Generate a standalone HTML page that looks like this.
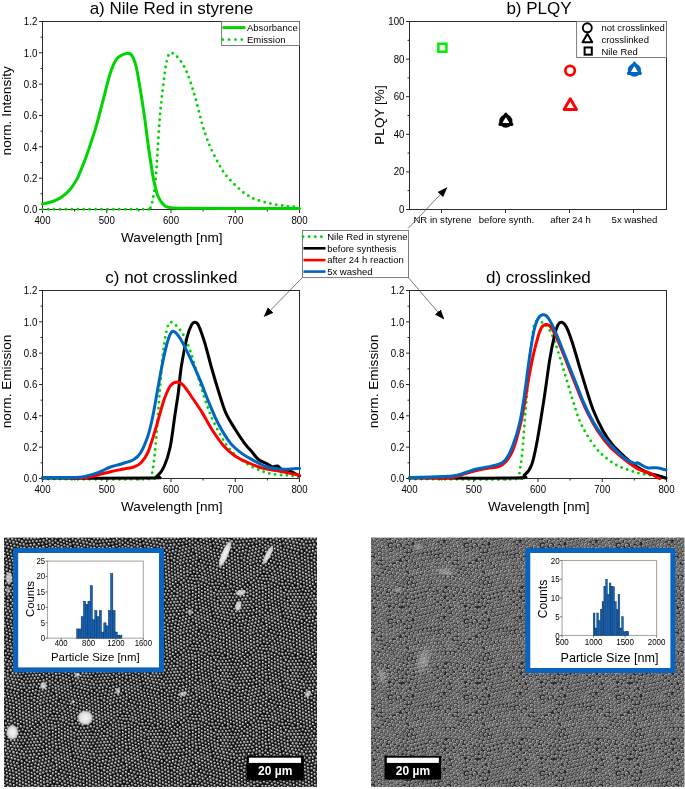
<!DOCTYPE html>
<html><head><meta charset="utf-8"><style>html,body{margin:0;padding:0;background:#fff;}svg{display:block;font-family:"Liberation Sans",sans-serif;will-change:transform;}</style></head><body>
<svg width="685" height="789" viewBox="0 0 685 789" font-family="Liberation Sans, sans-serif">
<rect width="685" height="789" fill="#fff"/>
<defs>
<radialGradient id="gL" cx="0.5" cy="0.5" r="0.5" fx="0.34" fy="0.3"><stop offset="0" stop-color="#f4f4f4"/><stop offset="0.3" stop-color="#a8a8a8"/><stop offset="0.72" stop-color="#505050"/><stop offset="1" stop-color="#1e1e1e"/></radialGradient>
<radialGradient id="gR" cx="0.5" cy="0.5" r="0.5" fx="0.64" fy="0.6"><stop offset="0" stop-color="#6e6e6e"/><stop offset="0.5" stop-color="#787878"/><stop offset="0.78" stop-color="#b4b4b4"/><stop offset="0.92" stop-color="#9a9a9a"/><stop offset="1" stop-color="#4a4a4a"/></radialGradient>
<pattern id="semL" width="70" height="70" patternUnits="userSpaceOnUse"><rect width="70" height="70" fill="#101010"/><circle cx="5.21" cy="18.78" r="1.68" fill="url(#gL)"/><circle cx="55.57" cy="40.84" r="1.62" fill="url(#gL)"/><circle cx="6.03" cy="30.14" r="1.78" fill="url(#gL)"/><circle cx="35.05" cy="11.64" r="1.6" fill="url(#gL)"/><circle cx="53.77" cy="8.42" r="1.74" fill="url(#gL)"/><circle cx="26.57" cy="37.33" r="1.69" fill="url(#gL)"/><circle cx="29.06" cy="39.74" r="1.59" fill="url(#gL)"/><circle cx="53.72" cy="66.5" r="1.73" fill="url(#gL)"/><circle cx="19.85" cy="43.72" r="1.59" fill="url(#gL)"/><circle cx="48.45" cy="21.47" r="1.71" fill="url(#gL)"/><circle cx="-0.92" cy="67.37" r="1.6" fill="url(#gL)"/><circle cx="69.08" cy="67.37" r="1.6" fill="url(#gL)"/><circle cx="20.85" cy="21.93" r="1.6" fill="url(#gL)"/><circle cx="62.33" cy="41.44" r="1.71" fill="url(#gL)"/><circle cx="34.37" cy="54.67" r="1.84" fill="url(#gL)"/><circle cx="-0.12" cy="50.98" r="1.61" fill="url(#gL)"/><circle cx="69.88" cy="50.98" r="1.61" fill="url(#gL)"/><circle cx="25.45" cy="3.7" r="1.65" fill="url(#gL)"/><circle cx="48.4" cy="65" r="1.77" fill="url(#gL)"/><circle cx="12.91" cy="43.4" r="1.87" fill="url(#gL)"/><circle cx="20.3" cy="54.29" r="1.76" fill="url(#gL)"/><circle cx="52.48" cy="15.85" r="1.7" fill="url(#gL)"/><circle cx="56.72" cy="47.53" r="1.88" fill="url(#gL)"/><circle cx="49.42" cy="58.23" r="1.59" fill="url(#gL)"/><circle cx="30.82" cy="55" r="1.85" fill="url(#gL)"/><circle cx="62.28" cy="5.21" r="1.67" fill="url(#gL)"/><circle cx="62.07" cy="27.08" r="1.62" fill="url(#gL)"/><circle cx="31.94" cy="10.17" r="1.61" fill="url(#gL)"/><circle cx="50.23" cy="18.45" r="1.67" fill="url(#gL)"/><circle cx="63.26" cy="20.62" r="1.83" fill="url(#gL)"/><circle cx="40.17" cy="27.49" r="1.63" fill="url(#gL)"/><circle cx="41.26" cy="14.58" r="1.76" fill="url(#gL)"/><circle cx="9.88" cy="51.5" r="1.78" fill="url(#gL)"/><circle cx="55.75" cy="37.35" r="1.69" fill="url(#gL)"/><circle cx="65.46" cy="14.94" r="1.75" fill="url(#gL)"/><circle cx="60.21" cy="10.9" r="1.59" fill="url(#gL)"/><circle cx="-1.17" cy="44.1" r="1.59" fill="url(#gL)"/><circle cx="68.83" cy="44.1" r="1.59" fill="url(#gL)"/><circle cx="41.26" cy="67.1" r="1.64" fill="url(#gL)"/><circle cx="55.45" cy="55.02" r="1.79" fill="url(#gL)"/><circle cx="6" cy="23.5" r="1.71" fill="url(#gL)"/><circle cx="4.06" cy="11.91" r="1.67" fill="url(#gL)"/><circle cx="17.34" cy="63.31" r="1.76" fill="url(#gL)"/><circle cx="8.1" cy="20.72" r="1.72" fill="url(#gL)"/><circle cx="36.27" cy="60.23" r="1.67" fill="url(#gL)"/><circle cx="66.66" cy="49.7" r="1.83" fill="url(#gL)"/><circle cx="14.62" cy="40.3" r="1.8" fill="url(#gL)"/><circle cx="50.11" cy="1.34" r="1.65" fill="url(#gL)"/><circle cx="50.11" cy="71.34" r="1.65" fill="url(#gL)"/><circle cx="48.96" cy="24.9" r="1.76" fill="url(#gL)"/><circle cx="42.4" cy="47.25" r="1.74" fill="url(#gL)"/><circle cx="46.9" cy="34.51" r="1.85" fill="url(#gL)"/><circle cx="38.24" cy="13.17" r="1.8" fill="url(#gL)"/><circle cx="34.83" cy="8.18" r="1.67" fill="url(#gL)"/><circle cx="35.96" cy="39.21" r="1.88" fill="url(#gL)"/><circle cx="53.07" cy="32.11" r="1.61" fill="url(#gL)"/><circle cx="1.32" cy="38.69" r="1.71" fill="url(#gL)"/><circle cx="71.32" cy="38.69" r="1.71" fill="url(#gL)"/><circle cx="14.44" cy="55.82" r="1.81" fill="url(#gL)"/><circle cx="27.18" cy="24.59" r="1.62" fill="url(#gL)"/><circle cx="61.64" cy="23.64" r="1.73" fill="url(#gL)"/><circle cx="24.09" cy="23.25" r="1.59" fill="url(#gL)"/><circle cx="28.62" cy="5.21" r="1.79" fill="url(#gL)"/><circle cx="38.74" cy="64.85" r="1.82" fill="url(#gL)"/><circle cx="38.98" cy="54.09" r="1.76" fill="url(#gL)"/><circle cx="65.02" cy="58.87" r="1.85" fill="url(#gL)"/><circle cx="52.61" cy="57.08" r="1.67" fill="url(#gL)"/><circle cx="56.74" cy="19.3" r="1.79" fill="url(#gL)"/><circle cx="33.13" cy="24.1" r="1.76" fill="url(#gL)"/><circle cx="17.92" cy="34.26" r="1.76" fill="url(#gL)"/><circle cx="21.52" cy="40.6" r="1.72" fill="url(#gL)"/><circle cx="41.09" cy="7.4" r="1.84" fill="url(#gL)"/><circle cx="30.33" cy="26.01" r="1.87" fill="url(#gL)"/><circle cx="50.47" cy="9.66" r="1.72" fill="url(#gL)"/><circle cx="10.95" cy="34.42" r="1.78" fill="url(#gL)"/><circle cx="25.91" cy="45.88" r="1.59" fill="url(#gL)"/><circle cx="23.16" cy="12.77" r="1.8" fill="url(#gL)"/><circle cx="66.04" cy="18.41" r="1.78" fill="url(#gL)"/><circle cx="11.57" cy="21.23" r="1.89" fill="url(#gL)"/><circle cx="26.29" cy="14.23" r="1.83" fill="url(#gL)"/><circle cx="34.78" cy="67.01" r="1.66" fill="url(#gL)"/><circle cx="7.66" cy="26.97" r="1.7" fill="url(#gL)"/><circle cx="48.87" cy="61.63" r="1.79" fill="url(#gL)"/><circle cx="67.48" cy="9.33" r="1.58" fill="url(#gL)"/><circle cx="35.47" cy="63.59" r="1.72" fill="url(#gL)"/><circle cx="1.6" cy="42.08" r="1.63" fill="url(#gL)"/><circle cx="71.6" cy="42.08" r="1.63" fill="url(#gL)"/><circle cx="11.05" cy="54.84" r="1.61" fill="url(#gL)"/><circle cx="65.12" cy="39.33" r="1.59" fill="url(#gL)"/><circle cx="1.04" cy="3.92" r="1.82" fill="url(#gL)"/><circle cx="71.04" cy="3.92" r="1.82" fill="url(#gL)"/><circle cx="29.67" cy="61.9" r="1.62" fill="url(#gL)"/><circle cx="15.78" cy="49.7" r="1.65" fill="url(#gL)"/><circle cx="29.7" cy="19.13" r="1.7" fill="url(#gL)"/><circle cx="52.39" cy="25.29" r="1.85" fill="url(#gL)"/><circle cx="27.29" cy="55.5" r="1.6" fill="url(#gL)"/><circle cx="36.94" cy="56.8" r="1.72" fill="url(#gL)"/><circle cx="37.94" cy="9.63" r="1.75" fill="url(#gL)"/><circle cx="33.1" cy="61.22" r="1.85" fill="url(#gL)"/><circle cx="37.98" cy="-1.73" r="1.83" fill="url(#gL)"/><circle cx="37.98" cy="68.27" r="1.83" fill="url(#gL)"/><circle cx="2.59" cy="24.33" r="1.85" fill="url(#gL)"/><circle cx="55.63" cy="50.71" r="1.66" fill="url(#gL)"/><circle cx="38.3" cy="48.14" r="1.71" fill="url(#gL)"/><circle cx="60.17" cy="47.07" r="1.69" fill="url(#gL)"/><circle cx="37.57" cy="36.08" r="1.85" fill="url(#gL)"/><circle cx="44.06" cy="20.54" r="1.88" fill="url(#gL)"/><circle cx="49.23" cy="43.6" r="1.62" fill="url(#gL)"/><circle cx="55.94" cy="33.94" r="1.63" fill="url(#gL)"/><circle cx="4.41" cy="39.96" r="1.65" fill="url(#gL)"/><circle cx="59.6" cy="43.62" r="1.65" fill="url(#gL)"/><circle cx="43.41" cy="29" r="1.73" fill="url(#gL)"/><circle cx="26.24" cy="51.85" r="1.76" fill="url(#gL)"/><circle cx="7.22" cy="60.42" r="1.66" fill="url(#gL)"/><circle cx="63.15" cy="-1.55" r="1.58" fill="url(#gL)"/><circle cx="63.15" cy="68.45" r="1.58" fill="url(#gL)"/><circle cx="10.75" cy="7.58" r="1.71" fill="url(#gL)"/><circle cx="65.04" cy="28.86" r="1.69" fill="url(#gL)"/><circle cx="17.72" cy="27.72" r="1.75" fill="url(#gL)"/><circle cx="47.5" cy="11.59" r="1.88" fill="url(#gL)"/><circle cx="36.36" cy="45.22" r="1.79" fill="url(#gL)"/><circle cx="53.43" cy="-0.09" r="1.74" fill="url(#gL)"/><circle cx="53.43" cy="69.91" r="1.74" fill="url(#gL)"/><circle cx="55.97" cy="30.07" r="1.77" fill="url(#gL)"/><circle cx="32.58" cy="39.48" r="1.79" fill="url(#gL)"/><circle cx="21.8" cy="65.05" r="1.59" fill="url(#gL)"/><circle cx="16.21" cy="37.33" r="1.86" fill="url(#gL)"/><circle cx="11.05" cy="40.4" r="1.82" fill="url(#gL)"/><circle cx="62.36" cy="61.01" r="1.85" fill="url(#gL)"/><circle cx="7.98" cy="44.6" r="1.83" fill="url(#gL)"/><circle cx="62.09" cy="13.73" r="1.7" fill="url(#gL)"/><circle cx="29.72" cy="51.7" r="1.7" fill="url(#gL)"/><circle cx="49.66" cy="32.38" r="1.61" fill="url(#gL)"/><circle cx="46.56" cy="45.77" r="1.77" fill="url(#gL)"/><circle cx="23.34" cy="43.55" r="1.59" fill="url(#gL)"/><circle cx="40.31" cy="50.87" r="1.6" fill="url(#gL)"/><circle cx="38.82" cy="20.15" r="1.64" fill="url(#gL)"/><circle cx="31.74" cy="64.79" r="1.63" fill="url(#gL)"/><circle cx="13.48" cy="11.67" r="1.68" fill="url(#gL)"/><circle cx="3.96" cy="59.67" r="1.59" fill="url(#gL)"/><circle cx="-1.34" cy="16.26" r="1.58" fill="url(#gL)"/><circle cx="68.66" cy="16.26" r="1.58" fill="url(#gL)"/><circle cx="16.97" cy="13.44" r="1.62" fill="url(#gL)"/><circle cx="43.61" cy="32.51" r="1.61" fill="url(#gL)"/><circle cx="55.85" cy="16.07" r="1.69" fill="url(#gL)"/><circle cx="62.15" cy="30.9" r="1.58" fill="url(#gL)"/><circle cx="55.85" cy="58.46" r="1.85" fill="url(#gL)"/><circle cx="65.31" cy="32.34" r="1.77" fill="url(#gL)"/><circle cx="43.38" cy="39.42" r="1.62" fill="url(#gL)"/><circle cx="16.15" cy="31.31" r="1.65" fill="url(#gL)"/><circle cx="62.57" cy="64.99" r="1.68" fill="url(#gL)"/><circle cx="2.13" cy="45.54" r="1.69" fill="url(#gL)"/><circle cx="25.71" cy="7.2" r="1.61" fill="url(#gL)"/><circle cx="7.39" cy="53.96" r="1.84" fill="url(#gL)"/><circle cx="-1.87" cy="37.17" r="1.89" fill="url(#gL)"/><circle cx="68.13" cy="37.17" r="1.89" fill="url(#gL)"/><circle cx="24.71" cy="34.42" r="1.72" fill="url(#gL)"/><circle cx="58.09" cy="52.89" r="1.73" fill="url(#gL)"/><circle cx="1.39" cy="14.1" r="1.6" fill="url(#gL)"/><circle cx="71.39" cy="14.1" r="1.6" fill="url(#gL)"/><circle cx="58.97" cy="36.08" r="1.61" fill="url(#gL)"/><circle cx="46.42" cy="52.56" r="1.68" fill="url(#gL)"/><circle cx="46.97" cy="49.19" r="1.66" fill="url(#gL)"/><circle cx="38.51" cy="16.59" r="1.84" fill="url(#gL)"/><circle cx="13.16" cy="1.31" r="1.63" fill="url(#gL)"/><circle cx="13.16" cy="71.31" r="1.63" fill="url(#gL)"/><circle cx="-0.69" cy="47.61" r="1.58" fill="url(#gL)"/><circle cx="69.31" cy="47.61" r="1.58" fill="url(#gL)"/><circle cx="62.72" cy="17.19" r="1.87" fill="url(#gL)"/><circle cx="4.31" cy="27.4" r="1.74" fill="url(#gL)"/><circle cx="21.34" cy="33.69" r="1.62" fill="url(#gL)"/><circle cx="28.15" cy="-1.74" r="1.75" fill="url(#gL)"/><circle cx="28.15" cy="68.26" r="1.75" fill="url(#gL)"/><circle cx="8.91" cy="67.14" r="1.58" fill="url(#gL)"/><circle cx="2.39" cy="-1.34" r="1.74" fill="url(#gL)"/><circle cx="2.39" cy="68.66" r="1.74" fill="url(#gL)"/><circle cx="22.19" cy="51.49" r="1.88" fill="url(#gL)"/><circle cx="1.31" cy="31.7" r="1.85" fill="url(#gL)"/><circle cx="71.31" cy="31.7" r="1.85" fill="url(#gL)"/><circle cx="49.83" cy="47.06" r="1.79" fill="url(#gL)"/><circle cx="54.14" cy="11.89" r="1.66" fill="url(#gL)"/><circle cx="27.51" cy="42.73" r="1.69" fill="url(#gL)"/><circle cx="0.96" cy="57.86" r="1.63" fill="url(#gL)"/><circle cx="70.96" cy="57.86" r="1.63" fill="url(#gL)"/><circle cx="29.36" cy="15.65" r="1.82" fill="url(#gL)"/><circle cx="14.52" cy="46.45" r="1.74" fill="url(#gL)"/><circle cx="1.95" cy="17.5" r="1.82" fill="url(#gL)"/><circle cx="20.42" cy="18.44" r="1.68" fill="url(#gL)"/><circle cx="52.6" cy="38.96" r="1.65" fill="url(#gL)"/><circle cx="63.36" cy="48.39" r="1.83" fill="url(#gL)"/><circle cx="18.24" cy="24.25" r="1.89" fill="url(#gL)"/><circle cx="8.11" cy="16.9" r="1.84" fill="url(#gL)"/><circle cx="43.79" cy="50.47" r="1.83" fill="url(#gL)"/><circle cx="20.96" cy="26.47" r="1.83" fill="url(#gL)"/><circle cx="57.01" cy="65.25" r="1.81" fill="url(#gL)"/><circle cx="7.48" cy="6.37" r="1.65" fill="url(#gL)"/><circle cx="52.94" cy="35.44" r="1.74" fill="url(#gL)"/><circle cx="30.92" cy="42.58" r="1.69" fill="url(#gL)"/><circle cx="55.87" cy="5.64" r="1.58" fill="url(#gL)"/><circle cx="65.84" cy="66.23" r="1.58" fill="url(#gL)"/><circle cx="29.28" cy="31.01" r="1.66" fill="url(#gL)"/><circle cx="18.01" cy="40.41" r="1.66" fill="url(#gL)"/><circle cx="14.49" cy="34.37" r="1.79" fill="url(#gL)"/><circle cx="61.9" cy="37.97" r="1.88" fill="url(#gL)"/><circle cx="57.51" cy="12.99" r="1.72" fill="url(#gL)"/><circle cx="62.89" cy="8.62" r="1.87" fill="url(#gL)"/><circle cx="13.62" cy="52.4" r="1.89" fill="url(#gL)"/><circle cx="19.7" cy="7.87" r="1.88" fill="url(#gL)"/><circle cx="3.72" cy="53.37" r="1.69" fill="url(#gL)"/><circle cx="3.77" cy="1.72" r="1.64" fill="url(#gL)"/><circle cx="64.48" cy="55.4" r="1.65" fill="url(#gL)"/><circle cx="29.15" cy="12.19" r="1.64" fill="url(#gL)"/><circle cx="61.4" cy="54.15" r="1.64" fill="url(#gL)"/><circle cx="46.64" cy="38" r="1.77" fill="url(#gL)"/><circle cx="34.28" cy="0.46" r="1.86" fill="url(#gL)"/><circle cx="34.28" cy="70.46" r="1.86" fill="url(#gL)"/><circle cx="37.63" cy="6.28" r="1.84" fill="url(#gL)"/><circle cx="4.86" cy="43.48" r="1.73" fill="url(#gL)"/><circle cx="53.1" cy="45.87" r="1.78" fill="url(#gL)"/><circle cx="53.57" cy="18.98" r="1.83" fill="url(#gL)"/><circle cx="23.32" cy="16.28" r="1.6" fill="url(#gL)"/><circle cx="26.49" cy="17.65" r="1.78" fill="url(#gL)"/><circle cx="56.92" cy="9.64" r="1.86" fill="url(#gL)"/><circle cx="12.41" cy="49.27" r="1.82" fill="url(#gL)"/><circle cx="26.83" cy="21.17" r="1.81" fill="url(#gL)"/><circle cx="-1.44" cy="63.99" r="1.73" fill="url(#gL)"/><circle cx="68.56" cy="63.99" r="1.73" fill="url(#gL)"/><circle cx="16.97" cy="10" r="1.63" fill="url(#gL)"/><circle cx="34.46" cy="42.35" r="1.82" fill="url(#gL)"/><circle cx="24.94" cy="40.48" r="1.68" fill="url(#gL)"/><circle cx="46.17" cy="59.33" r="1.83" fill="url(#gL)"/><circle cx="16.43" cy="43.51" r="1.88" fill="url(#gL)"/><circle cx="4.36" cy="5.19" r="1.7" fill="url(#gL)"/><circle cx="3.52" cy="8.52" r="1.7" fill="url(#gL)"/><circle cx="55.53" cy="26.61" r="1.87" fill="url(#gL)"/><circle cx="34.46" cy="31.29" r="1.8" fill="url(#gL)"/><circle cx="13.6" cy="4.78" r="1.63" fill="url(#gL)"/><circle cx="13.95" cy="62.39" r="1.62" fill="url(#gL)"/><circle cx="19.42" cy="30.76" r="1.62" fill="url(#gL)"/><circle cx="17.08" cy="52.97" r="1.86" fill="url(#gL)"/><circle cx="49.34" cy="28.58" r="1.83" fill="url(#gL)"/><circle cx="37.7" cy="25.11" r="1.62" fill="url(#gL)"/><circle cx="39.79" cy="45.07" r="1.84" fill="url(#gL)"/><circle cx="42.05" cy="63.76" r="1.88" fill="url(#gL)"/><circle cx="64.36" cy="2.42" r="1.78" fill="url(#gL)"/><circle cx="25.26" cy="0.17" r="1.69" fill="url(#gL)"/><circle cx="25.26" cy="70.17" r="1.69" fill="url(#gL)"/><circle cx="26.75" cy="60.43" r="1.75" fill="url(#gL)"/><circle cx="49.34" cy="40.13" r="1.62" fill="url(#gL)"/><circle cx="5.16" cy="56.51" r="1.58" fill="url(#gL)"/><circle cx="41.23" cy="22.6" r="1.88" fill="url(#gL)"/><circle cx="56.17" cy="2.11" r="1.78" fill="url(#gL)"/><circle cx="15.28" cy="59.15" r="1.74" fill="url(#gL)"/><circle cx="0.83" cy="10.63" r="1.87" fill="url(#gL)"/><circle cx="70.83" cy="10.63" r="1.87" fill="url(#gL)"/><circle cx="36.78" cy="51.3" r="1.71" fill="url(#gL)"/><circle cx="40.62" cy="0.58" r="1.85" fill="url(#gL)"/><circle cx="40.62" cy="70.58" r="1.85" fill="url(#gL)"/><circle cx="18" cy="46.62" r="1.84" fill="url(#gL)"/><circle cx="25.96" cy="10.68" r="1.64" fill="url(#gL)"/><circle cx="-0.79" cy="19.76" r="1.65" fill="url(#gL)"/><circle cx="69.21" cy="19.76" r="1.65" fill="url(#gL)"/><circle cx="61.09" cy="1.24" r="1.67" fill="url(#gL)"/><circle cx="61.09" cy="71.24" r="1.67" fill="url(#gL)"/><circle cx="39.5" cy="61.4" r="1.65" fill="url(#gL)"/><circle cx="47.78" cy="15.06" r="1.76" fill="url(#gL)"/><circle cx="44.05" cy="9.25" r="1.66" fill="url(#gL)"/><circle cx="32.85" cy="20.55" r="1.71" fill="url(#gL)"/><circle cx="59.61" cy="63.23" r="1.62" fill="url(#gL)"/><circle cx="52.74" cy="28.59" r="1.86" fill="url(#gL)"/><circle cx="59.88" cy="67.22" r="1.69" fill="url(#gL)"/><circle cx="23.07" cy="37.52" r="1.72" fill="url(#gL)"/><circle cx="10.28" cy="4.12" r="1.76" fill="url(#gL)"/><circle cx="51.04" cy="6.16" r="1.86" fill="url(#gL)"/><circle cx="41.14" cy="11.12" r="1.71" fill="url(#gL)"/><circle cx="49.7" cy="51.34" r="1.86" fill="url(#gL)"/><circle cx="64.85" cy="24.98" r="1.73" fill="url(#gL)"/><circle cx="27.54" cy="28.15" r="1.74" fill="url(#gL)"/><circle cx="50.06" cy="54.78" r="1.74" fill="url(#gL)"/><circle cx="9.37" cy="23.96" r="1.58" fill="url(#gL)"/><circle cx="4.63" cy="15.39" r="1.71" fill="url(#gL)"/><circle cx="51.62" cy="63.74" r="1.63" fill="url(#gL)"/><circle cx="67.64" cy="3.64" r="1.58" fill="url(#gL)"/><circle cx="27.94" cy="64.76" r="1.83" fill="url(#gL)"/><circle cx="36.01" cy="22.07" r="1.63" fill="url(#gL)"/><circle cx="53" cy="60.56" r="1.72" fill="url(#gL)"/><circle cx="8.73" cy="37.82" r="1.8" fill="url(#gL)"/><circle cx="10.56" cy="14.37" r="1.75" fill="url(#gL)"/><circle cx="35.66" cy="18.63" r="1.68" fill="url(#gL)"/><circle cx="58.89" cy="25.68" r="1.74" fill="url(#gL)"/><circle cx="11.11" cy="46.06" r="1.75" fill="url(#gL)"/><circle cx="16.45" cy="2.6" r="1.82" fill="url(#gL)"/><circle cx="68.08" cy="12.83" r="1.61" fill="url(#gL)"/><circle cx="9.26" cy="31.47" r="1.75" fill="url(#gL)"/><circle cx="67.17" cy="53.18" r="1.65" fill="url(#gL)"/><circle cx="6.98" cy="2.94" r="1.66" fill="url(#gL)"/><circle cx="1.57" cy="35.17" r="1.82" fill="url(#gL)"/><circle cx="71.57" cy="35.17" r="1.82" fill="url(#gL)"/><circle cx="65.28" cy="62.73" r="1.73" fill="url(#gL)"/><circle cx="52.91" cy="3.4" r="1.75" fill="url(#gL)"/><circle cx="48.03" cy="4.77" r="1.81" fill="url(#gL)"/><circle cx="67.8" cy="56.64" r="1.86" fill="url(#gL)"/><circle cx="21.16" cy="57.7" r="1.71" fill="url(#gL)"/><circle cx="40.2" cy="58.03" r="1.77" fill="url(#gL)"/><circle cx="44.59" cy="65.97" r="1.73" fill="url(#gL)"/><circle cx="32.94" cy="57.75" r="1.74" fill="url(#gL)"/><circle cx="59.01" cy="40.15" r="1.79" fill="url(#gL)"/><circle cx="37.41" cy="29.28" r="1.72" fill="url(#gL)"/><circle cx="44.48" cy="16.13" r="1.74" fill="url(#gL)"/><circle cx="32.87" cy="45.52" r="1.73" fill="url(#gL)"/><circle cx="20.09" cy="14.96" r="1.87" fill="url(#gL)"/><circle cx="8.57" cy="57.22" r="1.8" fill="url(#gL)"/><circle cx="61.83" cy="57.61" r="1.85" fill="url(#gL)"/><circle cx="52.5" cy="42.41" r="1.87" fill="url(#gL)"/><circle cx="4.57" cy="63.05" r="1.66" fill="url(#gL)"/><circle cx="34.79" cy="48.41" r="1.75" fill="url(#gL)"/><circle cx="6" cy="50.73" r="1.87" fill="url(#gL)"/><circle cx="12.28" cy="68.09" r="1.84" fill="url(#gL)"/><circle cx="49.64" cy="36.66" r="1.62" fill="url(#gL)"/><circle cx="46.72" cy="18.39" r="1.61" fill="url(#gL)"/><circle cx="31.88" cy="6.26" r="1.71" fill="url(#gL)"/><circle cx="17.77" cy="20.66" r="1.6" fill="url(#gL)"/><circle cx="12.59" cy="25.34" r="1.65" fill="url(#gL)"/><circle cx="6.46" cy="-0.37" r="1.6" fill="url(#gL)"/><circle cx="6.46" cy="69.63" r="1.6" fill="url(#gL)"/><circle cx="22.1" cy="-1.45" r="1.79" fill="url(#gL)"/><circle cx="22.1" cy="68.55" r="1.79" fill="url(#gL)"/><circle cx="46.57" cy="30.73" r="1.82" fill="url(#gL)"/><circle cx="13.97" cy="8.19" r="1.86" fill="url(#gL)"/><circle cx="29.43" cy="45.64" r="1.62" fill="url(#gL)"/><circle cx="59.15" cy="32.54" r="1.8" fill="url(#gL)"/><circle cx="58.55" cy="56.36" r="1.78" fill="url(#gL)"/><circle cx="58.46" cy="22.46" r="1.62" fill="url(#gL)"/><circle cx="28.85" cy="8.67" r="1.85" fill="url(#gL)"/><circle cx="40.23" cy="3.98" r="1.88" fill="url(#gL)"/><circle cx="32.22" cy="13.62" r="1.64" fill="url(#gL)"/><circle cx="35.41" cy="15.13" r="1.88" fill="url(#gL)"/><circle cx="0.89" cy="28.21" r="1.7" fill="url(#gL)"/><circle cx="70.89" cy="28.21" r="1.7" fill="url(#gL)"/><circle cx="30.64" cy="36.56" r="1.73" fill="url(#gL)"/><circle cx="7.6" cy="34.53" r="1.89" fill="url(#gL)"/><circle cx="19.54" cy="4.03" r="1.84" fill="url(#gL)"/><circle cx="31.32" cy="48.58" r="1.63" fill="url(#gL)"/><circle cx="21.47" cy="46.82" r="1.71" fill="url(#gL)"/><circle cx="56.72" cy="-1.22" r="1.74" fill="url(#gL)"/><circle cx="56.72" cy="68.78" r="1.74" fill="url(#gL)"/><circle cx="14.48" cy="19.4" r="1.68" fill="url(#gL)"/><circle cx="40.64" cy="34.41" r="1.64" fill="url(#gL)"/><circle cx="34.8" cy="4.28" r="1.68" fill="url(#gL)"/><circle cx="19.98" cy="11.46" r="1.8" fill="url(#gL)"/><circle cx="52.41" cy="49.25" r="1.58" fill="url(#gL)"/><circle cx="21.85" cy="61.41" r="1.75" fill="url(#gL)"/><circle cx="9.78" cy="0.65" r="1.71" fill="url(#gL)"/><circle cx="9.78" cy="70.65" r="1.71" fill="url(#gL)"/><circle cx="24.37" cy="48.79" r="1.58" fill="url(#gL)"/><circle cx="-1.54" cy="33.77" r="1.68" fill="url(#gL)"/><circle cx="68.46" cy="33.77" r="1.68" fill="url(#gL)"/><circle cx="7.72" cy="41.18" r="1.77" fill="url(#gL)"/><circle cx="0.43" cy="54.46" r="1.74" fill="url(#gL)"/><circle cx="70.43" cy="54.46" r="1.74" fill="url(#gL)"/><circle cx="22.58" cy="5.8" r="1.6" fill="url(#gL)"/><circle cx="11.94" cy="58.16" r="1.89" fill="url(#gL)"/><circle cx="64.77" cy="11.57" r="1.82" fill="url(#gL)"/><circle cx="-1.71" cy="60.11" r="1.88" fill="url(#gL)"/><circle cx="68.29" cy="60.11" r="1.88" fill="url(#gL)"/><circle cx="19.21" cy="0.54" r="1.61" fill="url(#gL)"/><circle cx="19.21" cy="70.54" r="1.61" fill="url(#gL)"/><circle cx="10.87" cy="28.38" r="1.66" fill="url(#gL)"/><circle cx="13.98" cy="15.21" r="1.59" fill="url(#gL)"/><circle cx="18.6" cy="60.1" r="1.82" fill="url(#gL)"/><circle cx="1.82" cy="65.19" r="1.66" fill="url(#gL)"/><circle cx="33.16" cy="51.39" r="1.62" fill="url(#gL)"/><circle cx="31.57" cy="68.28" r="1.71" fill="url(#gL)"/><circle cx="11.52" cy="17.77" r="1.86" fill="url(#gL)"/><circle cx="34.1" cy="36.07" r="1.83" fill="url(#gL)"/><circle cx="23.63" cy="19.74" r="1.66" fill="url(#gL)"/><circle cx="4.76" cy="36.65" r="1.62" fill="url(#gL)"/><circle cx="56.25" cy="61.92" r="1.86" fill="url(#gL)"/><circle cx="28.38" cy="1.71" r="1.75" fill="url(#gL)"/><circle cx="28.38" cy="71.71" r="1.75" fill="url(#gL)"/><circle cx="66.51" cy="21.9" r="1.8" fill="url(#gL)"/><circle cx="10.6" cy="61.38" r="1.6" fill="url(#gL)"/><circle cx="66.1" cy="46.24" r="1.59" fill="url(#gL)"/><circle cx="68.08" cy="30.25" r="1.79" fill="url(#gL)"/><circle cx="37.41" cy="1.95" r="1.71" fill="url(#gL)"/><circle cx="24.98" cy="66.73" r="1.6" fill="url(#gL)"/><circle cx="6.79" cy="9.74" r="1.87" fill="url(#gL)"/><circle cx="4.34" cy="33.15" r="1.77" fill="url(#gL)"/><circle cx="43.76" cy="35.89" r="1.83" fill="url(#gL)"/><circle cx="62.85" cy="44.91" r="1.6" fill="url(#gL)"/><circle cx="41.21" cy="41.77" r="1.84" fill="url(#gL)"/><circle cx="31.68" cy="2.79" r="1.6" fill="url(#gL)"/><circle cx="5.35" cy="46.86" r="1.85" fill="url(#gL)"/><circle cx="14.29" cy="28.28" r="1.72" fill="url(#gL)"/><circle cx="46.15" cy="41.57" r="1.68" fill="url(#gL)"/><circle cx="17.01" cy="16.94" r="1.75" fill="url(#gL)"/><circle cx="8.43" cy="48.4" r="1.87" fill="url(#gL)"/><circle cx="50.57" cy="12.94" r="1.66" fill="url(#gL)"/><circle cx="16.84" cy="6.08" r="1.62" fill="url(#gL)"/><circle cx="41.66" cy="18.1" r="1.74" fill="url(#gL)"/><circle cx="60.28" cy="19.33" r="1.65" fill="url(#gL)"/><circle cx="43.7" cy="44.07" r="1.61" fill="url(#gL)"/><circle cx="63.9" cy="51.87" r="1.63" fill="url(#gL)"/><circle cx="65.62" cy="42.77" r="1.59" fill="url(#gL)"/><circle cx="2.49" cy="20.99" r="1.64" fill="url(#gL)"/><circle cx="51.71" cy="21.87" r="1.67" fill="url(#gL)"/><circle cx="47.34" cy="8.07" r="1.67" fill="url(#gL)"/><circle cx="46.17" cy="27.04" r="1.81" fill="url(#gL)"/><circle cx="65.55" cy="6.45" r="1.67" fill="url(#gL)"/><circle cx="24.54" cy="57.73" r="1.73" fill="url(#gL)"/><circle cx="28.11" cy="34.33" r="1.63" fill="url(#gL)"/><circle cx="22.43" cy="2.03" r="1.68" fill="url(#gL)"/><circle cx="24.79" cy="63.23" r="1.58" fill="url(#gL)"/><circle cx="55.07" cy="23.01" r="1.65" fill="url(#gL)"/><circle cx="46.75" cy="56.05" r="1.58" fill="url(#gL)"/><circle cx="59.02" cy="4.05" r="1.81" fill="url(#gL)"/><circle cx="14.87" cy="65.72" r="1.75" fill="url(#gL)"/><circle cx="17.74" cy="56.71" r="1.63" fill="url(#gL)"/><circle cx="42.78" cy="60.37" r="1.72" fill="url(#gL)"/><circle cx="5.1" cy="66.4" r="1.87" fill="url(#gL)"/><circle cx="59.39" cy="15.98" r="1.61" fill="url(#gL)"/><circle cx="50.64" cy="67.87" r="1.83" fill="url(#gL)"/><circle cx="59.24" cy="29.2" r="1.71" fill="url(#gL)"/><circle cx="52.76" cy="52.75" r="1.73" fill="url(#gL)"/><circle cx="1.22" cy="61.86" r="1.84" fill="url(#gL)"/><circle cx="71.22" cy="61.86" r="1.84" fill="url(#gL)"/><circle cx="10.06" cy="10.98" r="1.7" fill="url(#gL)"/><circle cx="32.54" cy="17.17" r="1.73" fill="url(#gL)"/><circle cx="44.23" cy="12.6" r="1.79" fill="url(#gL)"/><circle cx="43.52" cy="56.95" r="1.88" fill="url(#gL)"/><circle cx="67.78" cy="26.8" r="1.68" fill="url(#gL)"/><circle cx="19.73" cy="37.31" r="1.84" fill="url(#gL)"/><circle cx="45.54" cy="62.79" r="1.8" fill="url(#gL)"/><circle cx="40.47" cy="30.92" r="1.78" fill="url(#gL)"/><circle cx="19.28" cy="49.89" r="1.7" fill="url(#gL)"/><circle cx="44.73" cy="5.88" r="1.68" fill="url(#gL)"/><circle cx="22.89" cy="9.3" r="1.59" fill="url(#gL)"/><circle cx="34.81" cy="27.02" r="1.62" fill="url(#gL)"/><circle cx="12.77" cy="37.44" r="1.6" fill="url(#gL)"/><circle cx="43.07" cy="25.52" r="1.81" fill="url(#gL)"/><circle cx="59.62" cy="7.39" r="1.66" fill="url(#gL)"/><circle cx="2.8" cy="49.26" r="1.63" fill="url(#gL)"/><circle cx="42.47" cy="53.68" r="1.6" fill="url(#gL)"/><circle cx="65.1" cy="35.87" r="1.84" fill="url(#gL)"/><circle cx="56.15" cy="44.1" r="1.85" fill="url(#gL)"/><circle cx="37.63" cy="32.82" r="1.79" fill="url(#gL)"/><circle cx="-0.65" cy="23.68" r="1.66" fill="url(#gL)"/><circle cx="69.35" cy="23.68" r="1.66" fill="url(#gL)"/><circle cx="31.83" cy="33.42" r="1.65" fill="url(#gL)"/><circle cx="43.34" cy="2.71" r="1.67" fill="url(#gL)"/><circle cx="46.61" cy="1.57" r="1.72" fill="url(#gL)"/><circle cx="46.61" cy="71.57" r="1.72" fill="url(#gL)"/><circle cx="25.81" cy="31.16" r="1.62" fill="url(#gL)"/><circle cx="40.03" cy="38.6" r="1.72" fill="url(#gL)"/><circle cx="43.92" cy="-0.54" r="1.66" fill="url(#gL)"/><circle cx="43.92" cy="69.46" r="1.66" fill="url(#gL)"/><circle cx="23.92" cy="54.49" r="1.88" fill="url(#gL)"/><circle cx="29.47" cy="58.23" r="1.88" fill="url(#gL)"/><circle cx="37.74" cy="42.1" r="1.75" fill="url(#gL)"/><circle cx="47.19" cy="68.34" r="1.65" fill="url(#gL)"/><circle cx="0.21" cy="7.29" r="1.88" fill="url(#gL)"/><circle cx="70.21" cy="7.29" r="1.88" fill="url(#gL)"/><circle cx="7.37" cy="13.18" r="1.67" fill="url(#gL)"/><circle cx="-0.3" cy="0.85" r="1.69" fill="url(#gL)"/><circle cx="-0.3" cy="70.85" r="1.69" fill="url(#gL)"/><circle cx="69.7" cy="0.85" r="1.69" fill="url(#gL)"/><circle cx="69.7" cy="70.85" r="1.69" fill="url(#gL)"/><circle cx="12.6" cy="31.37" r="1.58" fill="url(#gL)"/><circle cx="61.93" cy="34.37" r="1.7" fill="url(#gL)"/><circle cx="15.03" cy="22.89" r="1.72" fill="url(#gL)"/><circle cx="29.96" cy="22.6" r="1.73" fill="url(#gL)"/><circle cx="31.98" cy="29.05" r="1.64" fill="url(#gL)"/><circle cx="7.98" cy="63.85" r="1.73" fill="url(#gL)"/><circle cx="68.4" cy="40.7" r="1.58" fill="url(#gL)"/><circle cx="11.37" cy="64.67" r="1.66" fill="url(#gL)"/><circle cx="24.34" cy="26.68" r="1.6" fill="url(#gL)"/><circle cx="18.65" cy="66.55" r="1.7" fill="url(#gL)"/><circle cx="45.71" cy="23.61" r="1.59" fill="url(#gL)"/><circle cx="22.75" cy="29.67" r="1.58" fill="url(#gL)"/><circle cx="27.79" cy="48.78" r="1.67" fill="url(#gL)"/><circle cx="66.4" cy="-0.37" r="1.65" fill="url(#gL)"/><circle cx="66.4" cy="69.63" r="1.65" fill="url(#gL)"/><circle cx="59.04" cy="59.74" r="1.76" fill="url(#gL)"/><circle cx="16.11" cy="-0.99" r="1.74" fill="url(#gL)"/><circle cx="16.11" cy="69.01" r="1.74" fill="url(#gL)"/><circle cx="60.68" cy="50.52" r="1.81" fill="url(#gL)"/></pattern>
<pattern id="semR" width="76" height="76" patternUnits="userSpaceOnUse"><rect width="76" height="76" fill="#2a2a2a"/><circle cx="6.99" cy="19.9" r="1.88" fill="#a6a6a6"/><circle cx="7.44" cy="20.32" r="1.39" fill="#626262"/><circle cx="59.31" cy="45.86" r="1.9" fill="#a6a6a6"/><circle cx="59.76" cy="46.28" r="1.41" fill="#626262"/><circle cx="7.16" cy="32.15" r="1.96" fill="#a6a6a6"/><circle cx="7.61" cy="32.57" r="1.45" fill="#626262"/><circle cx="39.09" cy="13.06" r="1.79" fill="#a6a6a6"/><circle cx="39.54" cy="13.48" r="1.33" fill="#626262"/><circle cx="57.73" cy="12.16" r="1.77" fill="#a6a6a6"/><circle cx="58.18" cy="12.58" r="1.31" fill="#626262"/><circle cx="30.77" cy="39.69" r="1.99" fill="#a6a6a6"/><circle cx="31.22" cy="40.11" r="1.47" fill="#626262"/><circle cx="29.87" cy="43.39" r="1.71" fill="#a6a6a6"/><circle cx="30.32" cy="43.81" r="1.27" fill="#626262"/><circle cx="57.75" cy="72.87" r="1.91" fill="#a6a6a6"/><circle cx="58.2" cy="73.29" r="1.41" fill="#626262"/><circle cx="20.99" cy="48.99" r="1.88" fill="#a6a6a6"/><circle cx="21.44" cy="49.41" r="1.39" fill="#626262"/><circle cx="49.26" cy="21.87" r="1.68" fill="#a6a6a6"/><circle cx="49.71" cy="22.29" r="1.24" fill="#626262"/><circle cx="-0.48" cy="-1.51" r="1.94" fill="#a6a6a6"/><circle cx="-0.03" cy="-1.09" r="1.44" fill="#626262"/><circle cx="-0.48" cy="74.49" r="1.94" fill="#a6a6a6"/><circle cx="-0.03" cy="74.91" r="1.44" fill="#626262"/><circle cx="75.52" cy="-1.51" r="1.94" fill="#a6a6a6"/><circle cx="75.97" cy="-1.09" r="1.44" fill="#626262"/><circle cx="75.52" cy="74.49" r="1.94" fill="#a6a6a6"/><circle cx="75.97" cy="74.91" r="1.44" fill="#626262"/><circle cx="21.33" cy="24.52" r="1.96" fill="#a6a6a6"/><circle cx="21.78" cy="24.94" r="1.45" fill="#626262"/><circle cx="68.08" cy="45.47" r="1.87" fill="#a6a6a6"/><circle cx="68.53" cy="45.89" r="1.39" fill="#626262"/><circle cx="35.19" cy="60.66" r="1.91" fill="#a6a6a6"/><circle cx="35.64" cy="61.08" r="1.41" fill="#626262"/><circle cx="3.89" cy="53.91" r="1.94" fill="#a6a6a6"/><circle cx="4.34" cy="54.33" r="1.43" fill="#626262"/><circle cx="29.01" cy="7.28" r="1.71" fill="#a6a6a6"/><circle cx="29.46" cy="7.7" r="1.27" fill="#626262"/><circle cx="50.84" cy="71.28" r="1.84" fill="#a6a6a6"/><circle cx="51.29" cy="71.7" r="1.36" fill="#626262"/><circle cx="15.41" cy="44.78" r="1.83" fill="#a6a6a6"/><circle cx="15.86" cy="45.2" r="1.36" fill="#626262"/><circle cx="20.52" cy="56.43" r="1.94" fill="#a6a6a6"/><circle cx="20.97" cy="56.85" r="1.44" fill="#626262"/><circle cx="56.78" cy="16.28" r="1.93" fill="#a6a6a6"/><circle cx="57.23" cy="16.7" r="1.43" fill="#626262"/><circle cx="61.67" cy="49.17" r="1.94" fill="#a6a6a6"/><circle cx="62.12" cy="49.59" r="1.44" fill="#626262"/><circle cx="54.9" cy="64.76" r="1.86" fill="#a6a6a6"/><circle cx="55.35" cy="65.18" r="1.38" fill="#626262"/><circle cx="31.14" cy="61.69" r="1.96" fill="#a6a6a6"/><circle cx="31.59" cy="62.11" r="1.45" fill="#626262"/><circle cx="66.5" cy="6.31" r="1.89" fill="#a6a6a6"/><circle cx="66.95" cy="6.73" r="1.4" fill="#626262"/><circle cx="65.6" cy="30.9" r="1.9" fill="#a6a6a6"/><circle cx="66.05" cy="31.32" r="1.4" fill="#626262"/><circle cx="36.8" cy="6.37" r="1.74" fill="#a6a6a6"/><circle cx="37.25" cy="6.79" r="1.29" fill="#626262"/><circle cx="53.22" cy="21.04" r="1.68" fill="#a6a6a6"/><circle cx="53.67" cy="21.46" r="1.24" fill="#626262"/><circle cx="68.51" cy="22.31" r="1.71" fill="#a6a6a6"/><circle cx="68.96" cy="22.73" r="1.26" fill="#626262"/><circle cx="42.12" cy="30.25" r="1.79" fill="#a6a6a6"/><circle cx="42.57" cy="30.67" r="1.32" fill="#626262"/><circle cx="45.92" cy="15.05" r="1.7" fill="#a6a6a6"/><circle cx="46.37" cy="15.47" r="1.26" fill="#626262"/><circle cx="11.94" cy="54.89" r="1.94" fill="#a6a6a6"/><circle cx="12.39" cy="55.31" r="1.44" fill="#626262"/><circle cx="60.19" cy="41.9" r="1.85" fill="#a6a6a6"/><circle cx="60.64" cy="42.32" r="1.37" fill="#626262"/><circle cx="71.59" cy="15.84" r="1.87" fill="#a6a6a6"/><circle cx="72.04" cy="16.26" r="1.39" fill="#626262"/><circle cx="67.88" cy="14.38" r="1.87" fill="#a6a6a6"/><circle cx="68.33" cy="14.8" r="1.39" fill="#626262"/><circle cx="-1.82" cy="49.69" r="1.89" fill="#a6a6a6"/><circle cx="-1.37" cy="50.11" r="1.4" fill="#626262"/><circle cx="74.18" cy="49.69" r="1.89" fill="#a6a6a6"/><circle cx="74.63" cy="50.11" r="1.4" fill="#626262"/><circle cx="46.93" cy="72.49" r="1.83" fill="#a6a6a6"/><circle cx="47.38" cy="72.91" r="1.35" fill="#626262"/><circle cx="58.47" cy="56.53" r="1.67" fill="#a6a6a6"/><circle cx="58.92" cy="56.95" r="1.23" fill="#626262"/><circle cx="7.16" cy="27.98" r="1.93" fill="#a6a6a6"/><circle cx="7.61" cy="28.4" r="1.43" fill="#626262"/><circle cx="6.56" cy="15.92" r="1.91" fill="#a6a6a6"/><circle cx="7.01" cy="16.34" r="1.42" fill="#626262"/><circle cx="16.28" cy="66.73" r="1.83" fill="#a6a6a6"/><circle cx="16.73" cy="67.15" r="1.36" fill="#626262"/><circle cx="7.22" cy="24.08" r="1.84" fill="#a6a6a6"/><circle cx="7.67" cy="24.5" r="1.36" fill="#626262"/><circle cx="40.02" cy="63.22" r="1.88" fill="#a6a6a6"/><circle cx="40.47" cy="63.64" r="1.39" fill="#626262"/><circle cx="71.97" cy="53.04" r="1.69" fill="#a6a6a6"/><circle cx="72.42" cy="53.46" r="1.25" fill="#626262"/><circle cx="17.87" cy="41.46" r="1.91" fill="#a6a6a6"/><circle cx="18.32" cy="41.88" r="1.41" fill="#626262"/><circle cx="52.84" cy="1.99" r="1.75" fill="#a6a6a6"/><circle cx="53.29" cy="2.41" r="1.29" fill="#626262"/><circle cx="50.68" cy="28.83" r="1.69" fill="#a6a6a6"/><circle cx="51.13" cy="29.25" r="1.25" fill="#626262"/><circle cx="47.93" cy="53.84" r="1.75" fill="#a6a6a6"/><circle cx="48.38" cy="54.26" r="1.3" fill="#626262"/><circle cx="51.41" cy="35.77" r="1.91" fill="#a6a6a6"/><circle cx="51.86" cy="36.19" r="1.41" fill="#626262"/><circle cx="42.05" cy="16.09" r="1.73" fill="#a6a6a6"/><circle cx="42.5" cy="16.51" r="1.28" fill="#626262"/><circle cx="36.21" cy="10.48" r="1.91" fill="#a6a6a6"/><circle cx="36.66" cy="10.9" r="1.41" fill="#626262"/><circle cx="37.61" cy="41.47" r="1.99" fill="#a6a6a6"/><circle cx="38.06" cy="41.89" r="1.47" fill="#626262"/><circle cx="57.11" cy="31.49" r="1.83" fill="#a6a6a6"/><circle cx="57.56" cy="31.91" r="1.35" fill="#626262"/><circle cx="-0.12" cy="41.63" r="1.79" fill="#a6a6a6"/><circle cx="0.33" cy="42.05" r="1.33" fill="#626262"/><circle cx="75.88" cy="41.63" r="1.79" fill="#a6a6a6"/><circle cx="76.33" cy="42.05" r="1.33" fill="#626262"/><circle cx="13.82" cy="58.54" r="1.82" fill="#a6a6a6"/><circle cx="14.27" cy="58.96" r="1.35" fill="#626262"/><circle cx="29.68" cy="29.13" r="1.89" fill="#a6a6a6"/><circle cx="30.13" cy="29.55" r="1.4" fill="#626262"/><circle cx="68.24" cy="27.28" r="1.92" fill="#a6a6a6"/><circle cx="68.69" cy="27.7" r="1.42" fill="#626262"/><circle cx="27.09" cy="26.09" r="1.87" fill="#a6a6a6"/><circle cx="27.54" cy="26.51" r="1.38" fill="#626262"/><circle cx="32.73" cy="8.2" r="1.88" fill="#a6a6a6"/><circle cx="33.18" cy="8.62" r="1.39" fill="#626262"/><circle cx="43.91" cy="69.89" r="1.69" fill="#a6a6a6"/><circle cx="44.36" cy="70.31" r="1.25" fill="#626262"/><circle cx="42.9" cy="58.37" r="1.71" fill="#a6a6a6"/><circle cx="43.35" cy="58.79" r="1.27" fill="#626262"/><circle cx="71.16" cy="63.92" r="1.75" fill="#a6a6a6"/><circle cx="71.61" cy="64.34" r="1.29" fill="#626262"/><circle cx="58.73" cy="63.57" r="1.91" fill="#a6a6a6"/><circle cx="59.18" cy="63.99" r="1.42" fill="#626262"/><circle cx="60.98" cy="19.06" r="1.77" fill="#a6a6a6"/><circle cx="61.43" cy="19.48" r="1.31" fill="#626262"/><circle cx="36.11" cy="24.78" r="1.85" fill="#a6a6a6"/><circle cx="36.56" cy="25.2" r="1.37" fill="#626262"/><circle cx="20.37" cy="38.25" r="1.67" fill="#a6a6a6"/><circle cx="20.82" cy="38.67" r="1.24" fill="#626262"/><circle cx="23.54" cy="45.76" r="1.69" fill="#a6a6a6"/><circle cx="23.99" cy="46.18" r="1.25" fill="#626262"/><circle cx="44.05" cy="8.32" r="1.75" fill="#a6a6a6"/><circle cx="44.5" cy="8.74" r="1.3" fill="#626262"/><circle cx="34.73" cy="28.3" r="1.89" fill="#a6a6a6"/><circle cx="35.18" cy="28.72" r="1.4" fill="#626262"/><circle cx="54.92" cy="9.02" r="1.9" fill="#a6a6a6"/><circle cx="55.37" cy="9.44" r="1.4" fill="#626262"/><circle cx="12.3" cy="37.52" r="1.89" fill="#a6a6a6"/><circle cx="12.75" cy="37.94" r="1.4" fill="#626262"/><circle cx="29.6" cy="50.77" r="1.76" fill="#a6a6a6"/><circle cx="30.05" cy="51.19" r="1.3" fill="#626262"/><circle cx="23.64" cy="13.09" r="1.84" fill="#a6a6a6"/><circle cx="24.09" cy="13.51" r="1.36" fill="#626262"/><circle cx="71.87" cy="19.78" r="1.82" fill="#a6a6a6"/><circle cx="72.32" cy="20.2" r="1.35" fill="#626262"/><circle cx="10.66" cy="21.86" r="1.82" fill="#a6a6a6"/><circle cx="11.11" cy="22.28" r="1.35" fill="#626262"/><circle cx="29.25" cy="18.51" r="1.7" fill="#a6a6a6"/><circle cx="29.7" cy="18.93" r="1.26" fill="#626262"/><circle cx="40.05" cy="71.07" r="1.96" fill="#a6a6a6"/><circle cx="40.5" cy="71.49" r="1.45" fill="#626262"/><circle cx="10.74" cy="30.07" r="1.73" fill="#a6a6a6"/><circle cx="11.19" cy="30.49" r="1.28" fill="#626262"/><circle cx="51.84" cy="67.45" r="1.99" fill="#a6a6a6"/><circle cx="52.29" cy="67.87" r="1.47" fill="#626262"/><circle cx="-1.96" cy="9.27" r="1.98" fill="#a6a6a6"/><circle cx="-1.51" cy="9.69" r="1.46" fill="#626262"/><circle cx="74.04" cy="9.27" r="1.98" fill="#a6a6a6"/><circle cx="74.49" cy="9.69" r="1.46" fill="#626262"/><circle cx="40.88" cy="66.98" r="1.67" fill="#a6a6a6"/><circle cx="41.33" cy="67.4" r="1.24" fill="#626262"/><circle cx="0.68" cy="46.4" r="1.82" fill="#a6a6a6"/><circle cx="1.13" cy="46.82" r="1.35" fill="#626262"/><circle cx="76.68" cy="46.4" r="1.82" fill="#a6a6a6"/><circle cx="77.13" cy="46.82" r="1.35" fill="#626262"/><circle cx="11.62" cy="61.48" r="1.94" fill="#a6a6a6"/><circle cx="12.07" cy="61.9" r="1.43" fill="#626262"/><circle cx="68.04" cy="41.49" r="1.99" fill="#a6a6a6"/><circle cx="68.49" cy="41.91" r="1.47" fill="#626262"/><circle cx="1.16" cy="6.52" r="1.81" fill="#a6a6a6"/><circle cx="1.61" cy="6.94" r="1.34" fill="#626262"/><circle cx="77.16" cy="6.52" r="1.81" fill="#a6a6a6"/><circle cx="77.61" cy="6.94" r="1.34" fill="#626262"/><circle cx="32.29" cy="65.53" r="1.75" fill="#a6a6a6"/><circle cx="32.74" cy="65.95" r="1.3" fill="#626262"/><circle cx="18.51" cy="52.12" r="1.73" fill="#a6a6a6"/><circle cx="18.96" cy="52.54" r="1.28" fill="#626262"/><circle cx="33.1" cy="21.87" r="1.98" fill="#a6a6a6"/><circle cx="33.55" cy="22.29" r="1.47" fill="#626262"/><circle cx="52.17" cy="24.95" r="1.74" fill="#a6a6a6"/><circle cx="52.62" cy="25.37" r="1.28" fill="#626262"/><circle cx="28.33" cy="58.73" r="1.86" fill="#a6a6a6"/><circle cx="28.78" cy="59.15" r="1.38" fill="#626262"/><circle cx="38.88" cy="59.33" r="1.71" fill="#a6a6a6"/><circle cx="39.33" cy="59.75" r="1.27" fill="#626262"/><circle cx="43.07" cy="12.03" r="1.84" fill="#a6a6a6"/><circle cx="43.52" cy="12.45" r="1.36" fill="#626262"/><circle cx="36.94" cy="68.4" r="1.98" fill="#a6a6a6"/><circle cx="37.39" cy="68.82" r="1.47" fill="#626262"/><circle cx="43.04" cy="73.65" r="1.71" fill="#a6a6a6"/><circle cx="43.49" cy="74.07" r="1.26" fill="#626262"/><circle cx="-0.37" cy="25.93" r="1.94" fill="#a6a6a6"/><circle cx="0.08" cy="26.35" r="1.43" fill="#626262"/><circle cx="75.63" cy="25.93" r="1.94" fill="#a6a6a6"/><circle cx="76.08" cy="26.35" r="1.43" fill="#626262"/><circle cx="59.91" cy="52.88" r="1.83" fill="#a6a6a6"/><circle cx="60.36" cy="53.3" r="1.36" fill="#626262"/><circle cx="45.33" cy="50.84" r="1.96" fill="#a6a6a6"/><circle cx="45.78" cy="51.26" r="1.45" fill="#626262"/><circle cx="64.06" cy="52.54" r="1.9" fill="#a6a6a6"/><circle cx="64.51" cy="52.96" r="1.41" fill="#626262"/><circle cx="41.63" cy="40.61" r="1.74" fill="#a6a6a6"/><circle cx="42.08" cy="41.03" r="1.29" fill="#626262"/><circle cx="48.1" cy="25.59" r="1.96" fill="#a6a6a6"/><circle cx="48.55" cy="26.01" r="1.45" fill="#626262"/><circle cx="51.12" cy="46.58" r="1.83" fill="#a6a6a6"/><circle cx="51.57" cy="47" r="1.35" fill="#626262"/><circle cx="59.47" cy="34.92" r="1.67" fill="#a6a6a6"/><circle cx="59.92" cy="35.34" r="1.24" fill="#626262"/><circle cx="3.19" cy="43.25" r="1.67" fill="#a6a6a6"/><circle cx="3.64" cy="43.67" r="1.23" fill="#626262"/><circle cx="63.37" cy="45.49" r="1.83" fill="#a6a6a6"/><circle cx="63.82" cy="45.91" r="1.35" fill="#626262"/><circle cx="44.86" cy="33.07" r="1.82" fill="#a6a6a6"/><circle cx="45.31" cy="33.49" r="1.34" fill="#626262"/><circle cx="29.7" cy="54.9" r="1.77" fill="#a6a6a6"/><circle cx="30.15" cy="55.32" r="1.31" fill="#626262"/><circle cx="4.83" cy="65.37" r="1.71" fill="#a6a6a6"/><circle cx="5.28" cy="65.79" r="1.27" fill="#626262"/><circle cx="66.94" cy="-0.25" r="1.78" fill="#a6a6a6"/><circle cx="67.39" cy="0.17" r="1.32" fill="#626262"/><circle cx="66.94" cy="75.75" r="1.78" fill="#a6a6a6"/><circle cx="67.39" cy="76.17" r="1.32" fill="#626262"/><circle cx="8.91" cy="9.24" r="1.77" fill="#a6a6a6"/><circle cx="9.36" cy="9.66" r="1.31" fill="#626262"/><circle cx="69.72" cy="30.96" r="1.94" fill="#a6a6a6"/><circle cx="70.17" cy="31.38" r="1.44" fill="#626262"/><circle cx="21.4" cy="31.38" r="1.67" fill="#a6a6a6"/><circle cx="21.85" cy="31.8" r="1.23" fill="#626262"/><circle cx="50.93" cy="10.08" r="1.91" fill="#a6a6a6"/><circle cx="51.38" cy="10.5" r="1.42" fill="#626262"/><circle cx="41.27" cy="51.53" r="1.94" fill="#a6a6a6"/><circle cx="41.72" cy="51.95" r="1.44" fill="#626262"/><circle cx="53.88" cy="74.13" r="1.7" fill="#a6a6a6"/><circle cx="54.33" cy="74.55" r="1.26" fill="#626262"/><circle cx="61.22" cy="31.17" r="1.97" fill="#a6a6a6"/><circle cx="61.67" cy="31.59" r="1.46" fill="#626262"/><circle cx="33.65" cy="42.35" r="1.9" fill="#a6a6a6"/><circle cx="34.1" cy="42.77" r="1.41" fill="#626262"/><circle cx="20.39" cy="72.35" r="1.97" fill="#a6a6a6"/><circle cx="20.84" cy="72.77" r="1.45" fill="#626262"/><circle cx="13.78" cy="40.92" r="1.76" fill="#a6a6a6"/><circle cx="14.23" cy="41.34" r="1.3" fill="#626262"/><circle cx="11.24" cy="44.2" r="1.79" fill="#a6a6a6"/><circle cx="11.69" cy="44.62" r="1.32" fill="#626262"/><circle cx="67.85" cy="66.37" r="1.8" fill="#a6a6a6"/><circle cx="68.3" cy="66.79" r="1.33" fill="#626262"/><circle cx="8.77" cy="47.39" r="2" fill="#a6a6a6"/><circle cx="9.22" cy="47.81" r="1.48" fill="#626262"/><circle cx="64.38" cy="16.67" r="1.86" fill="#a6a6a6"/><circle cx="64.83" cy="17.09" r="1.38" fill="#626262"/><circle cx="32.23" cy="57.74" r="1.79" fill="#a6a6a6"/><circle cx="32.68" cy="58.16" r="1.32" fill="#626262"/><circle cx="55.5" cy="35.25" r="1.81" fill="#a6a6a6"/><circle cx="55.95" cy="35.67" r="1.34" fill="#626262"/><circle cx="52.05" cy="53.72" r="1.76" fill="#a6a6a6"/><circle cx="52.5" cy="54.14" r="1.3" fill="#626262"/><circle cx="27.36" cy="46.78" r="1.68" fill="#a6a6a6"/><circle cx="27.81" cy="47.2" r="1.24" fill="#626262"/><circle cx="44.04" cy="54.47" r="1.7" fill="#a6a6a6"/><circle cx="44.49" cy="54.89" r="1.26" fill="#626262"/><circle cx="40.57" cy="23.82" r="1.94" fill="#a6a6a6"/><circle cx="41.02" cy="24.24" r="1.44" fill="#626262"/><circle cx="33.04" cy="69.48" r="1.76" fill="#a6a6a6"/><circle cx="33.49" cy="69.9" r="1.3" fill="#626262"/><circle cx="12.89" cy="8.75" r="1.98" fill="#a6a6a6"/><circle cx="13.34" cy="9.17" r="1.46" fill="#626262"/><circle cx="1.83" cy="67.92" r="1.75" fill="#a6a6a6"/><circle cx="2.28" cy="68.34" r="1.29" fill="#626262"/><circle cx="-0.74" cy="17.48" r="1.75" fill="#a6a6a6"/><circle cx="-0.29" cy="17.9" r="1.3" fill="#626262"/><circle cx="75.26" cy="17.48" r="1.75" fill="#a6a6a6"/><circle cx="75.71" cy="17.9" r="1.3" fill="#626262"/><circle cx="18.63" cy="13.65" r="1.84" fill="#a6a6a6"/><circle cx="19.08" cy="14.07" r="1.36" fill="#626262"/><circle cx="47.37" cy="36.34" r="1.73" fill="#a6a6a6"/><circle cx="47.82" cy="36.76" r="1.28" fill="#626262"/><circle cx="60.68" cy="14.98" r="1.79" fill="#a6a6a6"/><circle cx="61.13" cy="15.4" r="1.32" fill="#626262"/><circle cx="67.71" cy="34.5" r="1.98" fill="#a6a6a6"/><circle cx="68.16" cy="34.92" r="1.47" fill="#626262"/><circle cx="60.47" cy="59.85" r="1.96" fill="#a6a6a6"/><circle cx="60.92" cy="60.27" r="1.45" fill="#626262"/><circle cx="69.88" cy="37.92" r="1.94" fill="#a6a6a6"/><circle cx="70.33" cy="38.34" r="1.43" fill="#626262"/><circle cx="44.09" cy="43.89" r="1.88" fill="#a6a6a6"/><circle cx="44.54" cy="44.31" r="1.39" fill="#626262"/><circle cx="18.83" cy="34.42" r="1.97" fill="#a6a6a6"/><circle cx="19.28" cy="34.84" r="1.46" fill="#626262"/><circle cx="67.8" cy="71.74" r="1.98" fill="#a6a6a6"/><circle cx="68.25" cy="72.16" r="1.46" fill="#626262"/><circle cx="2.27" cy="50.23" r="1.85" fill="#a6a6a6"/><circle cx="2.72" cy="50.65" r="1.37" fill="#626262"/><circle cx="25.95" cy="9.95" r="1.9" fill="#a6a6a6"/><circle cx="26.4" cy="10.37" r="1.41" fill="#626262"/><circle cx="9.5" cy="58.23" r="1.68" fill="#a6a6a6"/><circle cx="9.95" cy="58.65" r="1.24" fill="#626262"/><circle cx="71.75" cy="41.6" r="1.91" fill="#a6a6a6"/><circle cx="72.2" cy="42.02" r="1.41" fill="#626262"/><circle cx="27.81" cy="36.84" r="1.82" fill="#a6a6a6"/><circle cx="28.26" cy="37.26" r="1.34" fill="#626262"/><circle cx="62.46" cy="56.33" r="1.92" fill="#a6a6a6"/><circle cx="62.91" cy="56.75" r="1.42" fill="#626262"/><circle cx="2.66" cy="14.44" r="1.88" fill="#a6a6a6"/><circle cx="3.11" cy="14.86" r="1.39" fill="#626262"/><circle cx="61.77" cy="38.17" r="1.76" fill="#a6a6a6"/><circle cx="62.22" cy="38.59" r="1.3" fill="#626262"/><circle cx="47.85" cy="61.26" r="1.68" fill="#a6a6a6"/><circle cx="48.3" cy="61.68" r="1.24" fill="#626262"/><circle cx="50.73" cy="58.11" r="1.97" fill="#a6a6a6"/><circle cx="51.18" cy="58.53" r="1.46" fill="#626262"/><circle cx="44.93" cy="18.78" r="1.71" fill="#a6a6a6"/><circle cx="45.38" cy="19.2" r="1.26" fill="#626262"/><circle cx="16.91" cy="-1.24" r="1.82" fill="#a6a6a6"/><circle cx="17.36" cy="-0.82" r="1.35" fill="#626262"/><circle cx="16.91" cy="74.76" r="1.82" fill="#a6a6a6"/><circle cx="17.36" cy="75.18" r="1.35" fill="#626262"/><circle cx="-0.14" cy="53.61" r="1.78" fill="#a6a6a6"/><circle cx="0.31" cy="54.03" r="1.32" fill="#626262"/><circle cx="75.86" cy="53.61" r="1.78" fill="#a6a6a6"/><circle cx="76.31" cy="54.03" r="1.32" fill="#626262"/><circle cx="68.18" cy="18.33" r="1.76" fill="#a6a6a6"/><circle cx="68.63" cy="18.75" r="1.31" fill="#626262"/><circle cx="3.33" cy="30.59" r="1.91" fill="#a6a6a6"/><circle cx="3.78" cy="31.01" r="1.41" fill="#626262"/><circle cx="23.56" cy="34.8" r="1.99" fill="#a6a6a6"/><circle cx="24.01" cy="35.22" r="1.47" fill="#626262"/><circle cx="31.93" cy="73.44" r="1.75" fill="#a6a6a6"/><circle cx="32.38" cy="73.86" r="1.3" fill="#626262"/><circle cx="9.44" cy="70.81" r="1.88" fill="#a6a6a6"/><circle cx="9.89" cy="71.23" r="1.39" fill="#626262"/><circle cx="6.33" cy="73.41" r="1.77" fill="#a6a6a6"/><circle cx="6.78" cy="73.83" r="1.31" fill="#626262"/><circle cx="24.37" cy="57.67" r="1.85" fill="#a6a6a6"/><circle cx="24.82" cy="58.09" r="1.37" fill="#626262"/><circle cx="0.07" cy="34.53" r="1.8" fill="#a6a6a6"/><circle cx="0.52" cy="34.95" r="1.33" fill="#626262"/><circle cx="76.07" cy="34.53" r="1.8" fill="#a6a6a6"/><circle cx="76.52" cy="34.95" r="1.33" fill="#626262"/><circle cx="53.5" cy="49.95" r="1.72" fill="#a6a6a6"/><circle cx="53.95" cy="50.37" r="1.27" fill="#626262"/><circle cx="61.36" cy="10.39" r="1.72" fill="#a6a6a6"/><circle cx="61.81" cy="10.81" r="1.27" fill="#626262"/><circle cx="31.55" cy="47.18" r="1.73" fill="#a6a6a6"/><circle cx="32" cy="47.6" r="1.28" fill="#626262"/><circle cx="4" cy="61.24" r="1.97" fill="#a6a6a6"/><circle cx="4.45" cy="61.66" r="1.46" fill="#626262"/><circle cx="34" cy="18.12" r="1.83" fill="#a6a6a6"/><circle cx="34.45" cy="18.54" r="1.35" fill="#626262"/><circle cx="16.88" cy="48.34" r="1.74" fill="#a6a6a6"/><circle cx="17.33" cy="48.76" r="1.29" fill="#626262"/><circle cx="3.44" cy="22.39" r="1.97" fill="#a6a6a6"/><circle cx="3.89" cy="22.81" r="1.46" fill="#626262"/><circle cx="21.56" cy="20.35" r="2" fill="#a6a6a6"/><circle cx="22.01" cy="20.77" r="1.48" fill="#626262"/><circle cx="56.04" cy="42.35" r="1.81" fill="#a6a6a6"/><circle cx="56.49" cy="42.77" r="1.34" fill="#626262"/><circle cx="67.89" cy="52.22" r="1.71" fill="#a6a6a6"/><circle cx="68.34" cy="52.64" r="1.27" fill="#626262"/><circle cx="17.9" cy="26.46" r="1.73" fill="#a6a6a6"/><circle cx="18.35" cy="26.88" r="1.28" fill="#626262"/><circle cx="10.29" cy="17.58" r="1.7" fill="#a6a6a6"/><circle cx="10.74" cy="18" r="1.25" fill="#626262"/><circle cx="46.57" cy="57.28" r="1.78" fill="#a6a6a6"/><circle cx="47.02" cy="57.7" r="1.32" fill="#626262"/><circle cx="23.39" cy="27.75" r="1.7" fill="#a6a6a6"/><circle cx="23.84" cy="28.17" r="1.25" fill="#626262"/><circle cx="60.91" cy="70.27" r="1.74" fill="#a6a6a6"/><circle cx="61.36" cy="70.69" r="1.29" fill="#626262"/><circle cx="8.04" cy="5.29" r="1.75" fill="#a6a6a6"/><circle cx="8.49" cy="5.71" r="1.3" fill="#626262"/><circle cx="57.85" cy="38.49" r="1.85" fill="#a6a6a6"/><circle cx="58.3" cy="38.91" r="1.37" fill="#626262"/><circle cx="35.76" cy="45.87" r="1.96" fill="#a6a6a6"/><circle cx="36.21" cy="46.29" r="1.45" fill="#626262"/><circle cx="58.5" cy="7.4" r="1.91" fill="#a6a6a6"/><circle cx="58.95" cy="7.82" r="1.42" fill="#626262"/><circle cx="71.53" cy="73.19" r="1.8" fill="#a6a6a6"/><circle cx="71.98" cy="73.61" r="1.33" fill="#626262"/><circle cx="31.91" cy="35.69" r="1.8" fill="#a6a6a6"/><circle cx="32.36" cy="36.11" r="1.33" fill="#626262"/><circle cx="21.9" cy="41.98" r="1.84" fill="#a6a6a6"/><circle cx="22.35" cy="42.4" r="1.36" fill="#626262"/><circle cx="16.24" cy="37.67" r="1.79" fill="#a6a6a6"/><circle cx="16.69" cy="38.09" r="1.32" fill="#626262"/><circle cx="65.91" cy="37.89" r="1.78" fill="#a6a6a6"/><circle cx="66.36" cy="38.31" r="1.32" fill="#626262"/><circle cx="64.06" cy="12.86" r="1.69" fill="#a6a6a6"/><circle cx="64.51" cy="13.28" r="1.25" fill="#626262"/><circle cx="67.22" cy="10.2" r="1.76" fill="#a6a6a6"/><circle cx="67.67" cy="10.62" r="1.3" fill="#626262"/><circle cx="16.56" cy="55.45" r="1.99" fill="#a6a6a6"/><circle cx="17.01" cy="55.87" r="1.47" fill="#626262"/><circle cx="20.03" cy="5.96" r="1.71" fill="#a6a6a6"/><circle cx="20.48" cy="6.38" r="1.26" fill="#626262"/><circle cx="5.43" cy="57.7" r="1.83" fill="#a6a6a6"/><circle cx="5.88" cy="58.12" r="1.36" fill="#626262"/><circle cx="0.28" cy="2.65" r="1.87" fill="#a6a6a6"/><circle cx="0.73" cy="3.07" r="1.39" fill="#626262"/><circle cx="76.28" cy="2.65" r="1.87" fill="#a6a6a6"/><circle cx="76.73" cy="3.07" r="1.39" fill="#626262"/><circle cx="70.62" cy="59.8" r="1.95" fill="#a6a6a6"/><circle cx="71.07" cy="60.22" r="1.44" fill="#626262"/><circle cx="31.18" cy="15.02" r="1.74" fill="#a6a6a6"/><circle cx="31.63" cy="15.44" r="1.29" fill="#626262"/><circle cx="65.89" cy="58.55" r="1.76" fill="#a6a6a6"/><circle cx="66.34" cy="58.97" r="1.3" fill="#626262"/><circle cx="49.76" cy="39.44" r="1.75" fill="#a6a6a6"/><circle cx="50.21" cy="39.86" r="1.29" fill="#626262"/><circle cx="39.11" cy="-1.24" r="1.8" fill="#a6a6a6"/><circle cx="39.56" cy="-0.82" r="1.33" fill="#626262"/><circle cx="39.11" cy="74.76" r="1.8" fill="#a6a6a6"/><circle cx="39.56" cy="75.18" r="1.33" fill="#626262"/><circle cx="40.05" cy="9.34" r="1.81" fill="#a6a6a6"/><circle cx="40.5" cy="9.76" r="1.34" fill="#626262"/><circle cx="4.75" cy="47.05" r="1.98" fill="#a6a6a6"/><circle cx="5.2" cy="47.47" r="1.47" fill="#626262"/><circle cx="57.61" cy="49.57" r="1.95" fill="#a6a6a6"/><circle cx="58.06" cy="49.99" r="1.44" fill="#626262"/><circle cx="57.24" cy="20.35" r="1.96" fill="#a6a6a6"/><circle cx="57.69" cy="20.77" r="1.45" fill="#626262"/><circle cx="25.14" cy="18.51" r="1.67" fill="#a6a6a6"/><circle cx="25.59" cy="18.93" r="1.24" fill="#626262"/><circle cx="29.03" cy="22.57" r="1.68" fill="#a6a6a6"/><circle cx="29.48" cy="22.99" r="1.24" fill="#626262"/><circle cx="62.58" cy="6.42" r="1.9" fill="#a6a6a6"/><circle cx="63.03" cy="6.84" r="1.41" fill="#626262"/><circle cx="14.33" cy="51.72" r="1.96" fill="#a6a6a6"/><circle cx="14.78" cy="52.14" r="1.45" fill="#626262"/><circle cx="31.66" cy="25.76" r="1.82" fill="#a6a6a6"/><circle cx="32.11" cy="26.18" r="1.35" fill="#626262"/><circle cx="-1.34" cy="70.68" r="1.86" fill="#a6a6a6"/><circle cx="-0.89" cy="71.1" r="1.38" fill="#626262"/><circle cx="74.66" cy="70.68" r="1.86" fill="#a6a6a6"/><circle cx="75.11" cy="71.1" r="1.38" fill="#626262"/><circle cx="14.8" cy="12.38" r="1.67" fill="#a6a6a6"/><circle cx="15.25" cy="12.8" r="1.23" fill="#626262"/><circle cx="39.91" cy="44.87" r="1.8" fill="#a6a6a6"/><circle cx="40.36" cy="45.29" r="1.33" fill="#626262"/><circle cx="25.89" cy="42.5" r="1.97" fill="#a6a6a6"/><circle cx="26.34" cy="42.92" r="1.46" fill="#626262"/><circle cx="48.72" cy="64.7" r="1.94" fill="#a6a6a6"/><circle cx="49.17" cy="65.12" r="1.44" fill="#626262"/><circle cx="19.35" cy="45.22" r="1.95" fill="#a6a6a6"/><circle cx="19.8" cy="45.64" r="1.44" fill="#626262"/><circle cx="4.15" cy="3.99" r="1.99" fill="#a6a6a6"/><circle cx="4.6" cy="4.41" r="1.47" fill="#626262"/><circle cx="5.02" cy="7.91" r="1.75" fill="#a6a6a6"/><circle cx="5.47" cy="8.33" r="1.29" fill="#626262"/><circle cx="58.77" cy="27.73" r="1.7" fill="#a6a6a6"/><circle cx="59.22" cy="28.15" r="1.26" fill="#626262"/><circle cx="35.89" cy="34.61" r="1.72" fill="#a6a6a6"/><circle cx="36.34" cy="35.03" r="1.27" fill="#626262"/><circle cx="15.12" cy="2.12" r="1.84" fill="#a6a6a6"/><circle cx="15.57" cy="2.54" r="1.36" fill="#626262"/><circle cx="13.04" cy="69.2" r="1.89" fill="#a6a6a6"/><circle cx="13.49" cy="69.62" r="1.4" fill="#626262"/><circle cx="25.5" cy="31.23" r="1.98" fill="#a6a6a6"/><circle cx="25.95" cy="31.65" r="1.46" fill="#626262"/><circle cx="17.83" cy="59.44" r="1.91" fill="#a6a6a6"/><circle cx="18.28" cy="59.86" r="1.41" fill="#626262"/><circle cx="48.95" cy="32.48" r="1.88" fill="#a6a6a6"/><circle cx="49.4" cy="32.9" r="1.39" fill="#626262"/><circle cx="37.72" cy="31.24" r="1.92" fill="#a6a6a6"/><circle cx="38.17" cy="31.66" r="1.42" fill="#626262"/><circle cx="42.64" cy="47.65" r="1.82" fill="#a6a6a6"/><circle cx="43.09" cy="48.07" r="1.34" fill="#626262"/><circle cx="47.83" cy="68.79" r="1.85" fill="#a6a6a6"/><circle cx="48.28" cy="69.21" r="1.37" fill="#626262"/><circle cx="72.42" cy="1.24" r="1.68" fill="#a6a6a6"/><circle cx="72.87" cy="1.66" r="1.24" fill="#626262"/><circle cx="72.42" cy="77.24" r="1.68" fill="#a6a6a6"/><circle cx="72.87" cy="77.66" r="1.24" fill="#626262"/><circle cx="30.52" cy="1.24" r="1.93" fill="#a6a6a6"/><circle cx="30.97" cy="1.66" r="1.42" fill="#626262"/><circle cx="30.52" cy="77.24" r="1.93" fill="#a6a6a6"/><circle cx="30.97" cy="77.66" r="1.42" fill="#626262"/><circle cx="28.26" cy="64.38" r="1.74" fill="#a6a6a6"/><circle cx="28.71" cy="64.8" r="1.29" fill="#626262"/><circle cx="52.25" cy="42.64" r="1.97" fill="#a6a6a6"/><circle cx="52.7" cy="43.06" r="1.46" fill="#626262"/><circle cx="0.93" cy="64.02" r="1.88" fill="#a6a6a6"/><circle cx="1.38" cy="64.44" r="1.39" fill="#626262"/><circle cx="76.93" cy="64.02" r="1.88" fill="#a6a6a6"/><circle cx="77.38" cy="64.44" r="1.39" fill="#626262"/><circle cx="43.62" cy="26.37" r="1.77" fill="#a6a6a6"/><circle cx="44.07" cy="26.79" r="1.31" fill="#626262"/><circle cx="59.81" cy="3.59" r="1.71" fill="#a6a6a6"/><circle cx="60.26" cy="4.01" r="1.26" fill="#626262"/><circle cx="15.56" cy="62.66" r="1.75" fill="#a6a6a6"/><circle cx="16.01" cy="63.08" r="1.29" fill="#626262"/><circle cx="1.91" cy="10.64" r="1.88" fill="#a6a6a6"/><circle cx="2.36" cy="11.06" r="1.39" fill="#626262"/><circle cx="39.93" cy="55.4" r="1.9" fill="#a6a6a6"/><circle cx="40.38" cy="55.82" r="1.4" fill="#626262"/><circle cx="46.05" cy="0.59" r="1.7" fill="#a6a6a6"/><circle cx="46.5" cy="1.01" r="1.26" fill="#626262"/><circle cx="46.05" cy="76.59" r="1.7" fill="#a6a6a6"/><circle cx="46.5" cy="77.01" r="1.26" fill="#626262"/><circle cx="22.11" cy="52.82" r="1.69" fill="#a6a6a6"/><circle cx="22.56" cy="53.24" r="1.25" fill="#626262"/><circle cx="27.25" cy="14.98" r="1.84" fill="#a6a6a6"/><circle cx="27.7" cy="15.4" r="1.36" fill="#626262"/><circle cx="-0.39" cy="21.59" r="1.86" fill="#a6a6a6"/><circle cx="0.06" cy="22.01" r="1.38" fill="#626262"/><circle cx="75.61" cy="21.59" r="1.86" fill="#a6a6a6"/><circle cx="76.06" cy="22.01" r="1.38" fill="#626262"/><circle cx="69.05" cy="3.15" r="1.79" fill="#a6a6a6"/><circle cx="69.5" cy="3.57" r="1.33" fill="#626262"/><circle cx="44.81" cy="65.87" r="1.74" fill="#a6a6a6"/><circle cx="45.26" cy="66.29" r="1.29" fill="#626262"/><circle cx="52.83" cy="16.95" r="1.87" fill="#a6a6a6"/><circle cx="53.28" cy="17.37" r="1.38" fill="#626262"/><circle cx="48.08" cy="7.28" r="1.67" fill="#a6a6a6"/><circle cx="48.53" cy="7.7" r="1.23" fill="#626262"/><circle cx="37.07" cy="20.77" r="1.77" fill="#a6a6a6"/><circle cx="37.52" cy="21.19" r="1.31" fill="#626262"/><circle cx="64.75" cy="68.99" r="1.82" fill="#a6a6a6"/><circle cx="65.2" cy="69.41" r="1.35" fill="#626262"/><circle cx="54.68" cy="28.18" r="1.98" fill="#a6a6a6"/><circle cx="55.13" cy="28.6" r="1.47" fill="#626262"/><circle cx="63.83" cy="73.01" r="1.88" fill="#a6a6a6"/><circle cx="64.28" cy="73.43" r="1.39" fill="#626262"/><circle cx="24.26" cy="38.86" r="1.96" fill="#a6a6a6"/><circle cx="24.71" cy="39.28" r="1.45" fill="#626262"/><circle cx="12.03" cy="4.91" r="1.82" fill="#a6a6a6"/><circle cx="12.48" cy="5.33" r="1.35" fill="#626262"/><circle cx="55.88" cy="4.82" r="1.74" fill="#a6a6a6"/><circle cx="56.33" cy="5.24" r="1.29" fill="#626262"/><circle cx="47.01" cy="11.02" r="1.75" fill="#a6a6a6"/><circle cx="47.46" cy="11.44" r="1.29" fill="#626262"/><circle cx="54.35" cy="56.99" r="1.98" fill="#a6a6a6"/><circle cx="54.8" cy="57.41" r="1.47" fill="#626262"/><circle cx="72.2" cy="27.89" r="1.9" fill="#a6a6a6"/><circle cx="72.65" cy="28.31" r="1.41" fill="#626262"/><circle cx="32.79" cy="31.93" r="1.77" fill="#a6a6a6"/><circle cx="33.24" cy="32.35" r="1.31" fill="#626262"/><circle cx="55.77" cy="60.83" r="1.67" fill="#a6a6a6"/><circle cx="56.22" cy="61.25" r="1.24" fill="#626262"/><circle cx="10.72" cy="25.9" r="1.83" fill="#a6a6a6"/><circle cx="11.17" cy="26.32" r="1.35" fill="#626262"/><circle cx="3.27" cy="18.51" r="1.89" fill="#a6a6a6"/><circle cx="3.72" cy="18.93" r="1.4" fill="#626262"/><circle cx="54.73" cy="70.07" r="1.8" fill="#a6a6a6"/><circle cx="55.18" cy="70.49" r="1.34" fill="#626262"/><circle cx="73.36" cy="5.12" r="1.75" fill="#a6a6a6"/><circle cx="73.81" cy="5.54" r="1.3" fill="#626262"/><circle cx="29.28" cy="68.38" r="1.89" fill="#a6a6a6"/><circle cx="29.73" cy="68.8" r="1.4" fill="#626262"/><circle cx="39.12" cy="27.33" r="1.97" fill="#a6a6a6"/><circle cx="39.57" cy="27.75" r="1.46" fill="#626262"/><circle cx="57.86" cy="67.51" r="1.74" fill="#a6a6a6"/><circle cx="58.31" cy="67.93" r="1.29" fill="#626262"/><circle cx="9.67" cy="40.45" r="1.68" fill="#a6a6a6"/><circle cx="10.12" cy="40.87" r="1.24" fill="#626262"/><circle cx="10.85" cy="13.48" r="1.78" fill="#a6a6a6"/><circle cx="11.3" cy="13.9" r="1.32" fill="#626262"/><circle cx="40.99" cy="19.76" r="1.81" fill="#a6a6a6"/><circle cx="41.44" cy="20.18" r="1.34" fill="#626262"/><circle cx="62.78" cy="27.76" r="1.89" fill="#a6a6a6"/><circle cx="63.23" cy="28.18" r="1.4" fill="#626262"/><circle cx="12.89" cy="47.95" r="1.73" fill="#a6a6a6"/><circle cx="13.34" cy="48.37" r="1.28" fill="#626262"/><circle cx="19.24" cy="1.98" r="1.93" fill="#a6a6a6"/><circle cx="19.69" cy="2.4" r="1.43" fill="#626262"/><circle cx="-1.2" cy="13.26" r="1.91" fill="#a6a6a6"/><circle cx="-0.75" cy="13.68" r="1.41" fill="#626262"/><circle cx="74.8" cy="13.26" r="1.91" fill="#a6a6a6"/><circle cx="75.25" cy="13.68" r="1.41" fill="#626262"/><circle cx="10.73" cy="33.68" r="1.83" fill="#a6a6a6"/><circle cx="11.18" cy="34.1" r="1.36" fill="#626262"/><circle cx="73.36" cy="56.83" r="1.73" fill="#a6a6a6"/><circle cx="73.81" cy="57.25" r="1.28" fill="#626262"/><circle cx="7.24" cy="1.23" r="1.99" fill="#a6a6a6"/><circle cx="7.69" cy="1.65" r="1.47" fill="#626262"/><circle cx="7.24" cy="77.23" r="1.99" fill="#a6a6a6"/><circle cx="7.69" cy="77.65" r="1.47" fill="#626262"/><circle cx="1.94" cy="38.2" r="1.77" fill="#a6a6a6"/><circle cx="2.39" cy="38.62" r="1.31" fill="#626262"/><circle cx="70.79" cy="69.16" r="1.94" fill="#a6a6a6"/><circle cx="71.24" cy="69.58" r="1.43" fill="#626262"/><circle cx="56.81" cy="0.74" r="1.74" fill="#a6a6a6"/><circle cx="57.26" cy="1.16" r="1.29" fill="#626262"/><circle cx="56.81" cy="76.74" r="1.74" fill="#a6a6a6"/><circle cx="57.26" cy="77.16" r="1.29" fill="#626262"/><circle cx="49.05" cy="3.24" r="1.74" fill="#a6a6a6"/><circle cx="49.5" cy="3.66" r="1.29" fill="#626262"/><circle cx="-1.43" cy="60.74" r="1.92" fill="#a6a6a6"/><circle cx="-0.98" cy="61.16" r="1.42" fill="#626262"/><circle cx="74.57" cy="60.74" r="1.92" fill="#a6a6a6"/><circle cx="75.02" cy="61.16" r="1.42" fill="#626262"/><circle cx="21.52" cy="60.7" r="1.76" fill="#a6a6a6"/><circle cx="21.97" cy="61.12" r="1.3" fill="#626262"/><circle cx="43.93" cy="62.12" r="1.98" fill="#a6a6a6"/><circle cx="44.38" cy="62.54" r="1.47" fill="#626262"/><circle cx="49.99" cy="-0.64" r="1.83" fill="#a6a6a6"/><circle cx="50.44" cy="-0.22" r="1.35" fill="#626262"/><circle cx="49.99" cy="75.36" r="1.83" fill="#a6a6a6"/><circle cx="50.44" cy="75.78" r="1.35" fill="#626262"/><circle cx="36.2" cy="64.51" r="1.73" fill="#a6a6a6"/><circle cx="36.65" cy="64.93" r="1.28" fill="#626262"/><circle cx="63.9" cy="41.67" r="1.74" fill="#a6a6a6"/><circle cx="64.35" cy="42.09" r="1.29" fill="#626262"/><circle cx="40.59" cy="33.88" r="1.8" fill="#a6a6a6"/><circle cx="41.04" cy="34.3" r="1.33" fill="#626262"/><circle cx="49.95" cy="13.95" r="1.89" fill="#a6a6a6"/><circle cx="50.4" cy="14.37" r="1.4" fill="#626262"/><circle cx="38.47" cy="48.62" r="1.98" fill="#a6a6a6"/><circle cx="38.92" cy="49.04" r="1.47" fill="#626262"/><circle cx="21.5" cy="16.59" r="1.71" fill="#a6a6a6"/><circle cx="21.95" cy="17.01" r="1.27" fill="#626262"/><circle cx="7.75" cy="62.63" r="1.8" fill="#a6a6a6"/><circle cx="8.2" cy="63.05" r="1.33" fill="#626262"/><circle cx="67.32" cy="62.29" r="1.74" fill="#a6a6a6"/><circle cx="67.77" cy="62.71" r="1.28" fill="#626262"/><circle cx="55.24" cy="46.19" r="1.99" fill="#a6a6a6"/><circle cx="55.69" cy="46.61" r="1.47" fill="#626262"/><circle cx="5.65" cy="69.25" r="1.71" fill="#a6a6a6"/><circle cx="6.1" cy="69.67" r="1.27" fill="#626262"/><circle cx="37.39" cy="52.65" r="1.68" fill="#a6a6a6"/><circle cx="37.84" cy="53.07" r="1.24" fill="#626262"/><circle cx="7.96" cy="54.35" r="1.69" fill="#a6a6a6"/><circle cx="8.41" cy="54.77" r="1.25" fill="#626262"/><circle cx="13.1" cy="73.31" r="1.8" fill="#a6a6a6"/><circle cx="13.55" cy="73.73" r="1.33" fill="#626262"/><circle cx="53.74" cy="38.97" r="1.96" fill="#a6a6a6"/><circle cx="54.19" cy="39.39" r="1.45" fill="#626262"/><circle cx="48.8" cy="17.87" r="1.96" fill="#a6a6a6"/><circle cx="49.25" cy="18.29" r="1.45" fill="#626262"/><circle cx="33.34" cy="4.23" r="1.91" fill="#a6a6a6"/><circle cx="33.79" cy="4.65" r="1.41" fill="#626262"/><circle cx="17.84" cy="22.22" r="2" fill="#a6a6a6"/><circle cx="18.29" cy="22.64" r="1.48" fill="#626262"/><circle cx="14.2" cy="28.3" r="1.98" fill="#a6a6a6"/><circle cx="14.65" cy="28.72" r="1.46" fill="#626262"/><circle cx="3.39" cy="-0.12" r="1.77" fill="#a6a6a6"/><circle cx="3.84" cy="0.3" r="1.31" fill="#626262"/><circle cx="3.39" cy="75.88" r="1.77" fill="#a6a6a6"/><circle cx="3.84" cy="76.3" r="1.31" fill="#626262"/><circle cx="24.09" cy="72.6" r="1.73" fill="#a6a6a6"/><circle cx="24.54" cy="73.02" r="1.28" fill="#626262"/><circle cx="53.05" cy="31.93" r="1.98" fill="#a6a6a6"/><circle cx="53.5" cy="32.35" r="1.46" fill="#626262"/><circle cx="15.98" cy="6.16" r="1.91" fill="#a6a6a6"/><circle cx="16.43" cy="6.58" r="1.42" fill="#626262"/><circle cx="34.48" cy="49.61" r="1.68" fill="#a6a6a6"/><circle cx="34.93" cy="50.03" r="1.24" fill="#626262"/><circle cx="63.65" cy="34.52" r="1.89" fill="#a6a6a6"/><circle cx="64.1" cy="34.94" r="1.4" fill="#626262"/><circle cx="63.44" cy="62.66" r="1.79" fill="#a6a6a6"/><circle cx="63.89" cy="63.08" r="1.33" fill="#626262"/><circle cx="65.23" cy="24.48" r="1.79" fill="#a6a6a6"/><circle cx="65.68" cy="24.9" r="1.32" fill="#626262"/><circle cx="29.87" cy="11.19" r="1.78" fill="#a6a6a6"/><circle cx="30.32" cy="11.61" r="1.31" fill="#626262"/><circle cx="45.1" cy="4.32" r="1.72" fill="#a6a6a6"/><circle cx="45.55" cy="4.74" r="1.27" fill="#626262"/><circle cx="35.19" cy="14.09" r="1.67" fill="#a6a6a6"/><circle cx="35.64" cy="14.51" r="1.23" fill="#626262"/><circle cx="38.04" cy="17.09" r="1.76" fill="#a6a6a6"/><circle cx="38.49" cy="17.51" r="1.3" fill="#626262"/><circle cx="-0.7" cy="30.57" r="1.78" fill="#a6a6a6"/><circle cx="-0.25" cy="30.99" r="1.32" fill="#626262"/><circle cx="75.3" cy="30.57" r="1.78" fill="#a6a6a6"/><circle cx="75.75" cy="30.99" r="1.32" fill="#626262"/><circle cx="34.92" cy="38.67" r="1.98" fill="#a6a6a6"/><circle cx="35.37" cy="39.09" r="1.47" fill="#626262"/><circle cx="7.79" cy="36.61" r="1.71" fill="#a6a6a6"/><circle cx="8.24" cy="37.03" r="1.26" fill="#626262"/><circle cx="23.33" cy="2.26" r="1.99" fill="#a6a6a6"/><circle cx="23.78" cy="2.68" r="1.47" fill="#626262"/><circle cx="33.29" cy="53.58" r="1.73" fill="#a6a6a6"/><circle cx="33.74" cy="54" r="1.28" fill="#626262"/><circle cx="25.93" cy="54.03" r="1.78" fill="#a6a6a6"/><circle cx="26.38" cy="54.45" r="1.32" fill="#626262"/><circle cx="60.77" cy="-0.43" r="1.94" fill="#a6a6a6"/><circle cx="61.22" cy="-0.01" r="1.43" fill="#626262"/><circle cx="60.77" cy="75.57" r="1.94" fill="#a6a6a6"/><circle cx="61.22" cy="75.99" r="1.43" fill="#626262"/><circle cx="14.43" cy="24.21" r="1.94" fill="#a6a6a6"/><circle cx="14.88" cy="24.63" r="1.43" fill="#626262"/><circle cx="43.33" cy="36.97" r="1.81" fill="#a6a6a6"/><circle cx="43.78" cy="37.39" r="1.34" fill="#626262"/><circle cx="41.03" cy="5.33" r="1.68" fill="#a6a6a6"/><circle cx="41.48" cy="5.75" r="1.24" fill="#626262"/><circle cx="21.89" cy="9.64" r="1.82" fill="#a6a6a6"/><circle cx="22.34" cy="10.06" r="1.35" fill="#626262"/><circle cx="55.98" cy="53.17" r="1.79" fill="#a6a6a6"/><circle cx="56.43" cy="53.59" r="1.32" fill="#626262"/><circle cx="23.34" cy="65.11" r="1.97" fill="#a6a6a6"/><circle cx="23.79" cy="65.53" r="1.46" fill="#626262"/><circle cx="11.24" cy="0.84" r="1.73" fill="#a6a6a6"/><circle cx="11.69" cy="1.26" r="1.28" fill="#626262"/><circle cx="11.24" cy="76.84" r="1.73" fill="#a6a6a6"/><circle cx="11.69" cy="77.26" r="1.28" fill="#626262"/><circle cx="25.16" cy="49.94" r="1.79" fill="#a6a6a6"/><circle cx="25.61" cy="50.36" r="1.32" fill="#626262"/><circle cx="73.96" cy="37.96" r="1.96" fill="#a6a6a6"/><circle cx="74.41" cy="38.38" r="1.45" fill="#626262"/><circle cx="7.33" cy="43.76" r="1.68" fill="#a6a6a6"/><circle cx="7.78" cy="44.18" r="1.24" fill="#626262"/><circle cx="1.38" cy="57.75" r="1.8" fill="#a6a6a6"/><circle cx="1.83" cy="58.17" r="1.33" fill="#626262"/><circle cx="77.38" cy="57.75" r="1.8" fill="#a6a6a6"/><circle cx="77.83" cy="58.17" r="1.33" fill="#626262"/><circle cx="24.1" cy="6.29" r="1.94" fill="#a6a6a6"/><circle cx="24.55" cy="6.71" r="1.43" fill="#626262"/><circle cx="12.52" cy="65.49" r="1.92" fill="#a6a6a6"/><circle cx="12.97" cy="65.91" r="1.42" fill="#626262"/><circle cx="70.97" cy="11.74" r="1.68" fill="#a6a6a6"/><circle cx="71.42" cy="12.16" r="1.24" fill="#626262"/><circle cx="73.99" cy="66.55" r="1.68" fill="#a6a6a6"/><circle cx="74.44" cy="66.97" r="1.24" fill="#626262"/><circle cx="26.65" cy="-0.09" r="1.69" fill="#a6a6a6"/><circle cx="27.1" cy="0.33" r="1.25" fill="#626262"/><circle cx="26.65" cy="75.91" r="1.69" fill="#a6a6a6"/><circle cx="27.1" cy="76.33" r="1.25" fill="#626262"/><circle cx="14.87" cy="33.68" r="1.97" fill="#a6a6a6"/><circle cx="15.32" cy="34.1" r="1.46" fill="#626262"/><circle cx="14.15" cy="16.16" r="1.75" fill="#a6a6a6"/><circle cx="14.6" cy="16.58" r="1.3" fill="#626262"/><circle cx="20.45" cy="68.19" r="1.91" fill="#a6a6a6"/><circle cx="20.9" cy="68.61" r="1.42" fill="#626262"/><circle cx="2.52" cy="71.99" r="1.96" fill="#a6a6a6"/><circle cx="2.97" cy="72.41" r="1.45" fill="#626262"/><circle cx="36.17" cy="56.53" r="1.78" fill="#a6a6a6"/><circle cx="36.62" cy="56.95" r="1.32" fill="#626262"/><circle cx="35.94" cy="72.44" r="1.76" fill="#a6a6a6"/><circle cx="36.39" cy="72.86" r="1.3" fill="#626262"/><circle cx="14.29" cy="20.3" r="1.98" fill="#a6a6a6"/><circle cx="14.74" cy="20.72" r="1.47" fill="#626262"/><circle cx="38.84" cy="37.63" r="1.87" fill="#a6a6a6"/><circle cx="39.29" cy="38.05" r="1.38" fill="#626262"/><circle cx="25.02" cy="22.59" r="1.75" fill="#a6a6a6"/><circle cx="25.47" cy="23.01" r="1.3" fill="#626262"/><circle cx="5.63" cy="39.92" r="1.9" fill="#a6a6a6"/><circle cx="6.08" cy="40.34" r="1.41" fill="#626262"/><circle cx="61.75" cy="66.36" r="1.77" fill="#a6a6a6"/><circle cx="62.2" cy="66.78" r="1.31" fill="#626262"/><circle cx="34.66" cy="0.33" r="1.76" fill="#a6a6a6"/><circle cx="35.11" cy="0.75" r="1.3" fill="#626262"/><circle cx="34.66" cy="76.33" r="1.76" fill="#a6a6a6"/><circle cx="35.11" cy="76.75" r="1.3" fill="#626262"/><circle cx="72.26" cy="23.97" r="1.67" fill="#a6a6a6"/><circle cx="72.71" cy="24.39" r="1.23" fill="#626262"/><circle cx="8.66" cy="66.68" r="1.92" fill="#a6a6a6"/><circle cx="9.11" cy="67.1" r="1.42" fill="#626262"/><circle cx="70.27" cy="48.91" r="1.97" fill="#a6a6a6"/><circle cx="70.72" cy="49.33" r="1.46" fill="#626262"/><circle cx="72.02" cy="34.4" r="1.88" fill="#a6a6a6"/><circle cx="72.47" cy="34.82" r="1.39" fill="#626262"/><circle cx="42.14" cy="1.71" r="1.98" fill="#a6a6a6"/><circle cx="42.59" cy="2.13" r="1.46" fill="#626262"/><circle cx="42.14" cy="77.71" r="1.98" fill="#a6a6a6"/><circle cx="42.59" cy="78.13" r="1.46" fill="#626262"/><circle cx="28.24" cy="72.02" r="1.67" fill="#a6a6a6"/><circle cx="28.69" cy="72.44" r="1.24" fill="#626262"/><circle cx="5.83" cy="11.96" r="1.74" fill="#a6a6a6"/><circle cx="6.28" cy="12.38" r="1.29" fill="#626262"/><circle cx="4.18" cy="34.76" r="1.82" fill="#a6a6a6"/><circle cx="4.63" cy="35.18" r="1.35" fill="#626262"/><circle cx="45.68" cy="40.06" r="1.98" fill="#a6a6a6"/><circle cx="46.13" cy="40.48" r="1.47" fill="#626262"/><circle cx="65.76" cy="48.87" r="1.98" fill="#a6a6a6"/><circle cx="66.21" cy="49.29" r="1.47" fill="#626262"/><circle cx="46.75" cy="46.93" r="1.79" fill="#a6a6a6"/><circle cx="47.2" cy="47.35" r="1.33" fill="#626262"/><circle cx="38" cy="2.76" r="1.75" fill="#a6a6a6"/><circle cx="38.45" cy="3.18" r="1.29" fill="#626262"/><circle cx="6.29" cy="50.72" r="1.81" fill="#a6a6a6"/><circle cx="6.74" cy="51.14" r="1.34" fill="#626262"/><circle cx="17.53" cy="30.62" r="1.83" fill="#a6a6a6"/><circle cx="17.98" cy="31.04" r="1.35" fill="#626262"/><circle cx="48.15" cy="43.35" r="1.97" fill="#a6a6a6"/><circle cx="48.6" cy="43.77" r="1.46" fill="#626262"/><circle cx="17.82" cy="18.09" r="1.73" fill="#a6a6a6"/><circle cx="18.27" cy="18.51" r="1.28" fill="#626262"/><circle cx="10.4" cy="51.23" r="1.93" fill="#a6a6a6"/><circle cx="10.85" cy="51.65" r="1.43" fill="#626262"/><circle cx="53.78" cy="13.03" r="1.91" fill="#a6a6a6"/><circle cx="54.23" cy="13.45" r="1.41" fill="#626262"/><circle cx="17.82" cy="9.63" r="1.94" fill="#a6a6a6"/><circle cx="18.27" cy="10.05" r="1.43" fill="#626262"/><circle cx="45.29" cy="22.87" r="1.92" fill="#a6a6a6"/><circle cx="45.74" cy="23.29" r="1.42" fill="#626262"/><circle cx="64.78" cy="20.77" r="1.87" fill="#a6a6a6"/><circle cx="65.23" cy="21.19" r="1.38" fill="#626262"/><circle cx="49.45" cy="49.98" r="1.77" fill="#a6a6a6"/><circle cx="49.9" cy="50.4" r="1.31" fill="#626262"/><circle cx="69.15" cy="56.15" r="1.77" fill="#a6a6a6"/><circle cx="69.6" cy="56.57" r="1.31" fill="#626262"/><circle cx="72.66" cy="45.63" r="1.79" fill="#a6a6a6"/><circle cx="73.11" cy="46.05" r="1.32" fill="#626262"/><circle cx="3.69" cy="26.55" r="1.93" fill="#a6a6a6"/><circle cx="4.14" cy="26.97" r="1.42" fill="#626262"/><circle cx="56.41" cy="24.37" r="1.69" fill="#a6a6a6"/><circle cx="56.86" cy="24.79" r="1.25" fill="#626262"/><circle cx="51.98" cy="6.12" r="1.73" fill="#a6a6a6"/><circle cx="52.43" cy="6.54" r="1.28" fill="#626262"/><circle cx="46.46" cy="29.42" r="1.92" fill="#a6a6a6"/><circle cx="46.91" cy="29.84" r="1.42" fill="#626262"/><circle cx="70.2" cy="7.78" r="1.75" fill="#a6a6a6"/><circle cx="70.65" cy="8.2" r="1.29" fill="#626262"/><circle cx="25.53" cy="61.71" r="1.69" fill="#a6a6a6"/><circle cx="25.98" cy="62.13" r="1.25" fill="#626262"/><circle cx="28.99" cy="33.2" r="1.68" fill="#a6a6a6"/><circle cx="29.44" cy="33.62" r="1.24" fill="#626262"/><circle cx="27.21" cy="3.6" r="1.85" fill="#a6a6a6"/><circle cx="27.66" cy="4.02" r="1.37" fill="#626262"/><circle cx="25.23" cy="68.72" r="1.77" fill="#a6a6a6"/><circle cx="25.68" cy="69.14" r="1.31" fill="#626262"/><circle cx="61.22" cy="23.64" r="1.99" fill="#a6a6a6"/><circle cx="61.67" cy="24.06" r="1.47" fill="#626262"/><circle cx="51.83" cy="62.03" r="1.96" fill="#a6a6a6"/><circle cx="52.28" cy="62.45" r="1.45" fill="#626262"/><circle cx="64.08" cy="2.64" r="1.99" fill="#a6a6a6"/><circle cx="64.53" cy="3.06" r="1.48" fill="#626262"/><circle cx="16.64" cy="70.56" r="1.75" fill="#a6a6a6"/><circle cx="17.09" cy="70.98" r="1.3" fill="#626262"/><circle cx="19.45" cy="64.09" r="1.69" fill="#a6a6a6"/><circle cx="19.9" cy="64.51" r="1.25" fill="#626262"/></pattern>
<marker id="ah" viewBox="0 0 10 10" refX="9" refY="5" markerWidth="10" markerHeight="10" markerUnits="userSpaceOnUse" orient="auto"><path d="M0,1.2L10,5L0,8.8z" fill="#000"/></marker>
<radialGradient id="blob"><stop offset="0" stop-color="#f4f4f4"/><stop offset="0.55" stop-color="#e4e4e4"/><stop offset="0.8" stop-color="#d8d8d8" stop-opacity="0.9"/><stop offset="1" stop-color="#c0c0c0" stop-opacity="0.25"/></radialGradient>
<radialGradient id="smudge"><stop offset="0" stop-color="#c8c8c8" stop-opacity="0.55"/><stop offset="1" stop-color="#c8c8c8" stop-opacity="0"/></radialGradient>
</defs>
<rect x="42.5" y="21.5" width="257" height="188" fill="none" stroke="#2b2b2b" stroke-width="1"/>
<path d="M42.5,209.5H39M42.5,193.83H40.5M42.5,178.17H39M42.5,162.5H40.5M42.5,146.83H39M42.5,131.17H40.5M42.5,115.5H39M42.5,99.83H40.5M42.5,84.17H39M42.5,68.5H40.5M42.5,52.83H39M42.5,37.17H40.5M42.5,21.5H39M42.5,209.5V213M74.62,209.5V211.5M106.75,209.5V213M138.88,209.5V211.5M171,209.5V213M203.12,209.5V211.5M235.25,209.5V213M267.38,209.5V211.5M299.5,209.5V213" stroke="#2b2b2b" stroke-width="1" fill="none"/>
<text transform="translate(37.3,213.4) scale(1,1.12)" font-size="9.7" text-anchor="end" fill="#000" >0.0</text>
<text transform="translate(37.3,182.07) scale(1,1.12)" font-size="9.7" text-anchor="end" fill="#000" >0.2</text>
<text transform="translate(37.3,150.73) scale(1,1.12)" font-size="9.7" text-anchor="end" fill="#000" >0.4</text>
<text transform="translate(37.3,119.4) scale(1,1.12)" font-size="9.7" text-anchor="end" fill="#000" >0.6</text>
<text transform="translate(37.3,88.07) scale(1,1.12)" font-size="9.7" text-anchor="end" fill="#000" >0.8</text>
<text transform="translate(37.3,56.73) scale(1,1.12)" font-size="9.7" text-anchor="end" fill="#000" >1.0</text>
<text transform="translate(37.3,25.4) scale(1,1.12)" font-size="9.7" text-anchor="end" fill="#000" >1.2</text>
<text transform="translate(42.5,223.9) scale(1,1.12)" font-size="9.7" text-anchor="middle" fill="#000" >400</text>
<text transform="translate(106.75,223.9) scale(1,1.12)" font-size="9.7" text-anchor="middle" fill="#000" >500</text>
<text transform="translate(171,223.9) scale(1,1.12)" font-size="9.7" text-anchor="middle" fill="#000" >600</text>
<text transform="translate(235.25,223.9) scale(1,1.12)" font-size="9.7" text-anchor="middle" fill="#000" >700</text>
<text transform="translate(299.5,223.9) scale(1,1.12)" font-size="9.7" text-anchor="middle" fill="#000" >800</text>
<text x="171.8" y="242.3" font-size="13.6" text-anchor="middle" fill="#000" >Wavelength [nm]</text>
<text transform="translate(11.4,110.8) rotate(-90)" font-size="13.6" text-anchor="middle" fill="#000">norm. Intensity</text>
<text x="171.4" y="13.7" font-size="17.0" text-anchor="middle" fill="#000" >a) Nile Red in styrene</text>
<path d="M42.5,203.9C43.75,203.63 47.47,203.07 50,202.3C52.53,201.53 55.53,200.35 57.7,199.3C59.87,198.25 61.15,197.4 63,196C64.85,194.6 67.13,192.65 68.8,190.9C70.47,189.15 71.52,187.72 73,185.5C74.48,183.28 76.2,180.6 77.7,177.6C79.2,174.6 80.52,171.2 82,167.5C83.48,163.8 85.1,159.57 86.6,155.4C88.1,151.23 89.52,146.95 91,142.5C92.48,138.05 94,133.78 95.5,128.7C97,123.62 98.53,117.53 100,112C101.47,106.47 102.97,100.67 104.3,95.5C105.63,90.33 106.88,85.08 108,81C109.12,76.92 110,73.92 111,71C112,68.08 112.88,65.7 114,63.5C115.12,61.3 116.37,59.22 117.7,57.8C119.03,56.38 120.35,55.77 122,55C123.65,54.23 126.18,53.37 127.6,53.2C129.02,53.03 129.57,53.23 130.5,54C131.43,54.77 132.28,55.8 133.2,57.8C134.12,59.8 135.08,62.3 136,66C136.92,69.7 137.78,74.83 138.7,80C139.62,85.17 140.57,91.1 141.5,97C142.43,102.9 143.47,109.57 144.3,115.4C145.13,121.23 145.77,126.45 146.5,132C147.23,137.55 147.95,143.37 148.7,148.7C149.45,154.03 150.25,159.18 151,164C151.75,168.82 152.45,173.6 153.2,177.6C153.95,181.6 154.77,185.05 155.5,188C156.23,190.95 156.77,193.17 157.6,195.3C158.43,197.43 159.38,199.13 160.5,200.8C161.62,202.47 163.05,204.23 164.3,205.3C165.55,206.37 166.53,206.75 168,207.2C169.47,207.65 169.43,207.82 173.1,208C176.77,208.18 180.52,208.23 190,208.3C199.48,208.37 211.75,208.38 230,208.4C248.25,208.42 287.92,208.4 299.5,208.4" fill="none" stroke="#00d400" stroke-width="3.0" stroke-linejoin="round" stroke-linecap="round"/>
<path d="M42.5,209.3C58.75,209.3 122.3,209.33 140,209.3C157.7,209.27 146.7,210.15 148.7,209.1C150.7,208.05 150.88,207.52 152,203C153.12,198.48 154.47,190.67 155.4,182C156.33,173.33 156.87,161.72 157.6,151C158.33,140.28 159.07,126.95 159.8,117.7C160.53,108.45 161.07,103.65 162,95.5C162.93,87.35 164.4,75.3 165.4,68.8C166.4,62.3 167.15,59.13 168,56.5C168.85,53.87 169.25,53.23 170.5,53C171.75,52.77 173.55,53.38 175.5,55.1C177.45,56.82 180.17,60.08 182.2,63.3C184.23,66.52 185.85,69.78 187.7,74.4C189.55,79.02 191.63,85.63 193.3,91C194.97,96.37 196.22,101.05 197.7,106.6C199.18,112.15 200.72,119.13 202.2,124.3C203.68,129.47 205.13,133.53 206.6,137.6C208.07,141.67 209.15,144.63 211,148.7C212.85,152.77 215.48,157.93 217.7,162C219.92,166.07 221.72,169.58 224.3,173.1C226.88,176.62 229.87,179.77 233.2,183.1C236.53,186.43 240.6,190.4 244.3,193.1C248,195.8 250.95,197.53 255.4,199.3C259.85,201.07 265.82,202.58 271,203.7C276.18,204.82 281.88,205.47 286.5,206C291.12,206.53 296.67,206.75 298.7,206.9" fill="none" stroke="#00d400" stroke-width="2.9" stroke-linecap="round" stroke-dasharray="0 5.9"/>
<rect x="221.6" y="21.5" width="77.9" height="24" fill="#fff" stroke="#707070" stroke-width="0.9"/>
<line x1="222.5" y1="27.6" x2="245.4" y2="27.6" stroke="#00d400" stroke-width="3"/>
<path d="M222.8,39.6H241.8" fill="none" stroke="#00d400" stroke-width="2.9" stroke-linecap="round" stroke-dasharray="0 6.33"/>
<text x="247" y="30.9" font-size="9.5" text-anchor="start" fill="#000" >Absorbance</text>
<text x="247" y="42.9" font-size="9.5" text-anchor="start" fill="#000" >Emission</text>
<rect x="409.5" y="21.5" width="257" height="188" fill="none" stroke="#2b2b2b" stroke-width="1"/>
<path d="M409.5,209.5H406M409.5,190.7H407.5M409.5,171.9H406M409.5,153.1H407.5M409.5,134.3H406M409.5,115.5H407.5M409.5,96.7H406M409.5,77.9H407.5M409.5,59.1H406M409.5,40.3H407.5M409.5,21.5H406M441.5,209.5V213M505.5,209.5V213M569.5,209.5V213M633.5,209.5V213" stroke="#2b2b2b" stroke-width="1" fill="none"/>
<text transform="translate(404.5,213) scale(1,1.12)" font-size="9.7" text-anchor="end" fill="#000" >0</text>
<text transform="translate(404.5,175.4) scale(1,1.12)" font-size="9.7" text-anchor="end" fill="#000" >20</text>
<text transform="translate(404.5,137.8) scale(1,1.12)" font-size="9.7" text-anchor="end" fill="#000" >40</text>
<text transform="translate(404.5,100.2) scale(1,1.12)" font-size="9.7" text-anchor="end" fill="#000" >60</text>
<text transform="translate(404.5,62.6) scale(1,1.12)" font-size="9.7" text-anchor="end" fill="#000" >80</text>
<text transform="translate(404.5,25) scale(1,1.12)" font-size="9.7" text-anchor="end" fill="#000" >100</text>
<text x="442.5" y="223.1" font-size="9.6" text-anchor="middle" fill="#000" >NR in styrene</text>
<text x="506.5" y="223.1" font-size="9.6" text-anchor="middle" fill="#000" >before synth.</text>
<text x="570.5" y="223.1" font-size="9.6" text-anchor="middle" fill="#000" >after 24 h</text>
<text x="634.5" y="223.1" font-size="9.6" text-anchor="middle" fill="#000" >5x washed</text>
<text transform="translate(384.3,115) rotate(-90)" font-size="13.6" text-anchor="middle" fill="#000">PLQY [%]</text>
<text x="539" y="13.9" font-size="17.0" text-anchor="middle" fill="#000" >b) PLQY</text>
<rect x="438.4" y="43.7" width="8" height="8" fill="none" stroke="#00ee00" stroke-width="2.5"/>
<path d="M505.85,114L511.91,124.5L499.79,124.5Z" fill="none" stroke="#000000" stroke-width="2.9" stroke-linejoin="round"/>
<circle cx="505.85" cy="121.1" r="5.15" fill="none" stroke="#000000" stroke-width="2.9"/>
<circle cx="570.1" cy="70.6" r="4.75" fill="none" stroke="#ff0000" stroke-width="2.7"/>
<path d="M570.3,98.81L576.5,109.55L564.1,109.55Z" fill="none" stroke="#ff0000" stroke-width="2.9" stroke-linejoin="round"/>
<path d="M634.4,63L640.46,73.5L628.34,73.5Z" fill="none" stroke="#0066c0" stroke-width="2.9" stroke-linejoin="round"/>
<circle cx="634.4" cy="70.2" r="5.15" fill="none" stroke="#0066c0" stroke-width="2.9"/>
<rect x="576.6" y="21.5" width="89.9" height="36" fill="#fff" stroke="#707070" stroke-width="0.9"/>
<circle cx="587.3" cy="27.8" r="4.5" fill="none" stroke="#000000" stroke-width="1.9"/>
<path d="M587.4,33.8L592.25,42.2L582.55,42.2Z" fill="none" stroke="#000000" stroke-width="2.0" stroke-linejoin="round"/>
<rect x="584.6" y="47.45" width="7.2" height="7.2" fill="none" stroke="#000000" stroke-width="2.0"/>
<text x="601.4" y="31.2" font-size="9.5" text-anchor="start" fill="#000" >not crosslinked</text>
<text x="601.4" y="42.8" font-size="9.5" text-anchor="start" fill="#000" >crosslinked</text>
<text x="601.4" y="54.6" font-size="9.5" text-anchor="start" fill="#000" >Nile Red</text>
<line x1="408" y1="228.5" x2="446.6" y2="188" stroke="#555" stroke-width="0.8" marker-end="url(#ah)"/>
<line x1="302.4" y1="277.6" x2="264.4" y2="316.4" stroke="#555" stroke-width="0.8" marker-end="url(#ah)"/>
<line x1="408.4" y1="277.6" x2="443.7" y2="318.8" stroke="#555" stroke-width="0.8" marker-end="url(#ah)"/>
<rect x="302.5" y="230.5" width="106" height="47.1" fill="#fff" stroke="#707070" stroke-width="0.9"/>
<path d="M303,236.8H321.4" fill="none" stroke="#00d400" stroke-width="2.9" stroke-linecap="round" stroke-dasharray="0 6.13"/>
<line x1="303.5" y1="248.3" x2="325.5" y2="248.3" stroke="#000000" stroke-width="2.6"/>
<line x1="303.5" y1="260.1" x2="325.5" y2="260.1" stroke="#ff0000" stroke-width="2.6"/>
<line x1="303.5" y1="271.6" x2="325.5" y2="271.6" stroke="#0066c0" stroke-width="2.6"/>
<text x="327.2" y="240" font-size="9.5" text-anchor="start" fill="#000" >Nile Red in styrene</text>
<text x="327.2" y="251.5" font-size="9.5" text-anchor="start" fill="#000" >before synthesis</text>
<text x="327.2" y="263.3" font-size="9.5" text-anchor="start" fill="#000" >after 24 h reaction</text>
<text x="327.2" y="274.8" font-size="9.5" text-anchor="start" fill="#000" >5x washed</text>
<rect x="42.5" y="290.5" width="257" height="188" fill="none" stroke="#2b2b2b" stroke-width="1"/>
<path d="M42.5,478.5H39M42.5,462.83H40.5M42.5,447.17H39M42.5,431.5H40.5M42.5,415.83H39M42.5,400.17H40.5M42.5,384.5H39M42.5,368.83H40.5M42.5,353.17H39M42.5,337.5H40.5M42.5,321.83H39M42.5,306.17H40.5M42.5,290.5H39M42.5,478.5V482M74.62,478.5V480.5M106.75,478.5V482M138.88,478.5V480.5M171,478.5V482M203.12,478.5V480.5M235.25,478.5V482M267.38,478.5V480.5M299.5,478.5V482" stroke="#2b2b2b" stroke-width="1" fill="none"/>
<text transform="translate(37.3,482.4) scale(1,1.12)" font-size="9.7" text-anchor="end" fill="#000" >0.0</text>
<text transform="translate(37.3,451.07) scale(1,1.12)" font-size="9.7" text-anchor="end" fill="#000" >0.2</text>
<text transform="translate(37.3,419.73) scale(1,1.12)" font-size="9.7" text-anchor="end" fill="#000" >0.4</text>
<text transform="translate(37.3,388.4) scale(1,1.12)" font-size="9.7" text-anchor="end" fill="#000" >0.6</text>
<text transform="translate(37.3,357.07) scale(1,1.12)" font-size="9.7" text-anchor="end" fill="#000" >0.8</text>
<text transform="translate(37.3,325.73) scale(1,1.12)" font-size="9.7" text-anchor="end" fill="#000" >1.0</text>
<text transform="translate(37.3,294.4) scale(1,1.12)" font-size="9.7" text-anchor="end" fill="#000" >1.2</text>
<text transform="translate(42.5,492.9) scale(1,1.12)" font-size="9.7" text-anchor="middle" fill="#000" >400</text>
<text transform="translate(106.75,492.9) scale(1,1.12)" font-size="9.7" text-anchor="middle" fill="#000" >500</text>
<text transform="translate(171,492.9) scale(1,1.12)" font-size="9.7" text-anchor="middle" fill="#000" >600</text>
<text transform="translate(235.25,492.9) scale(1,1.12)" font-size="9.7" text-anchor="middle" fill="#000" >700</text>
<text transform="translate(299.5,492.9) scale(1,1.12)" font-size="9.7" text-anchor="middle" fill="#000" >800</text>
<text x="171.8" y="511.3" font-size="13.6" text-anchor="middle" fill="#000" >Wavelength [nm]</text>
<text transform="translate(11.4,381.5) rotate(-90)" font-size="13.6" text-anchor="middle" fill="#000">norm. Emission</text>
<text x="171.4" y="282.8" font-size="17.0" text-anchor="middle" fill="#000" >c) not crosslinked</text>
<path d="M42.5,479C60.25,479 130.73,479.92 149,479C167.27,478.08 151.12,477.93 152.1,473.5C153.08,469.07 154.03,460.6 154.9,452.4C155.77,444.2 156.52,434.07 157.3,424.3C158.08,414.53 158.82,403.97 159.6,393.8C160.38,383.63 161.22,371.77 162,363.3C162.78,354.83 163.53,348.38 164.3,343C165.07,337.62 165.68,334.45 166.6,331C167.52,327.55 168.17,323.17 169.8,322.3C171.43,321.43 174.12,323.65 176.4,325.8C178.68,327.95 181.15,330.9 183.5,335.2C185.85,339.5 188.17,344.97 190.5,351.6C192.83,358.23 195.15,367.18 197.5,375C199.85,382.82 202.25,391.45 204.6,398.5C206.95,405.55 208.87,411.05 211.6,417.3C214.33,423.55 217.87,430.53 221,436C224.13,441.47 226.88,446 230.4,450.1C233.92,454.2 238.2,457.67 242.1,460.6C246,463.53 249.9,465.73 253.8,467.7C257.7,469.67 261.58,471.23 265.5,472.4C269.42,473.57 273.38,474.2 277.3,474.7C281.22,475.2 285.3,475 289,475.4C292.7,475.8 297.75,476.82 299.5,477.1" fill="none" stroke="#00d400" stroke-width="2.9" stroke-linecap="round" stroke-dasharray="0 5.9"/>
<path d="M42.5,478C60.42,478 130.87,478.33 150,478C169.13,477.67 154.92,478 157.3,476C159.68,474 162.15,470.83 164.3,466C166.45,461.17 168.45,455.33 170.2,447C171.95,438.67 173.43,425.17 174.8,416C176.17,406.83 177.35,400 178.4,392C179.45,384 179.67,377.08 181.1,368C182.53,358.92 185.23,344.73 187,337.5C188.77,330.27 190.33,327.13 191.7,324.6C193.07,322.07 194.03,322.1 195.2,322.3C196.37,322.5 197.13,322.48 198.7,325.8C200.27,329.12 202.45,335.17 204.6,342.2C206.75,349.23 209.27,359.78 211.6,368C213.93,376.22 216.25,384.07 218.6,391.5C220.95,398.93 222.97,406.35 225.7,412.6C228.43,418.85 231.88,423.92 235,429C238.12,434.08 241.65,439.38 244.4,443.1C247.15,446.82 249.15,448.57 251.5,451.3C253.85,454.03 255.77,457.35 258.5,459.5C261.23,461.65 265.55,462.95 267.9,464.2C270.25,465.45 271.03,466.7 272.6,467C274.17,467.3 275.73,465.62 277.3,466C278.87,466.38 280.05,468.52 282,469.3C283.95,470.08 286.87,470 289,470.7C291.13,471.4 293.05,472.63 294.8,473.5C296.55,474.37 298.72,475.5 299.5,475.9" fill="none" stroke="#000000" stroke-width="3" stroke-linejoin="round" stroke-linecap="round"/>
<path d="M42.5,477.5C49.75,477.5 76.65,477.97 86,477.5C95.35,477.03 94.53,475.67 98.6,474.7C102.67,473.73 106.48,472.6 110.4,471.7C114.32,470.8 118.2,470.08 122.1,469.3C126,468.52 130.68,468.05 133.8,467C136.92,465.95 138.45,465.43 140.8,463C143.15,460.57 145.55,457.68 147.9,452.4C150.25,447.12 152.95,437.55 154.9,431.3C156.85,425.05 158,420.37 159.6,414.9C161.2,409.43 162.67,403.38 164.5,398.5C166.33,393.62 168.42,388.33 170.6,385.6C172.78,382.87 175.45,382.1 177.6,382.1C179.75,382.1 180.97,382.87 183.5,385.6C186.03,388.33 189.68,394 192.8,398.5C195.92,403 199.07,407.52 202.2,412.6C205.33,417.68 208.08,423.53 211.6,429C215.12,434.47 219.4,440.9 223.3,445.4C227.2,449.9 230.7,453.07 235,456C239.3,458.93 244.4,460.93 249.1,463C253.8,465.07 258.5,467.12 263.2,468.4C267.9,469.68 273,469.92 277.3,470.7C281.6,471.48 285.3,472.32 289,473.1C292.7,473.88 297.75,475.02 299.5,475.4" fill="none" stroke="#ff0000" stroke-width="3" stroke-linejoin="round" stroke-linecap="round"/>
<path d="M42.5,477.5C47.95,477.5 67.8,477.77 75.2,477.5C82.6,477.23 83,476.75 86.9,475.9C90.8,475.05 94.68,473.88 98.6,472.4C102.52,470.92 106.48,468.45 110.4,467C114.32,465.55 118.2,464.95 122.1,463.7C126,462.45 130.68,461.38 133.8,459.5C136.92,457.62 138.45,456.32 140.8,452.4C143.15,448.48 145.93,441.85 147.9,436C149.87,430.15 151.03,424.72 152.6,417.3C154.17,409.88 155.73,400.1 157.3,391.5C158.87,382.9 160.45,373.45 162,365.7C163.55,357.95 165.17,350.37 166.6,345C168.03,339.63 169.28,335.72 170.6,333.5C171.92,331.28 172.75,330.63 174.5,331.7C176.25,332.77 178.43,335.42 181.1,339.9C183.77,344.38 187.37,351.97 190.5,358.6C193.63,365.23 196.78,372.27 199.9,379.7C203.02,387.13 206.08,395.77 209.2,403.2C212.32,410.63 215.07,417.65 218.6,424.3C222.13,430.95 226.48,438.22 230.4,443.1C234.32,447.98 238.2,450.68 242.1,453.6C246,456.52 249.9,458.45 253.8,460.6C257.7,462.75 261.58,465.12 265.5,466.5C269.42,467.88 273.78,468.43 277.3,468.9C280.82,469.37 282.9,469.38 286.6,469.3C290.3,469.22 297.35,468.55 299.5,468.4" fill="none" stroke="#0066c0" stroke-width="3" stroke-linejoin="round" stroke-linecap="round"/>
<rect x="409.5" y="290.5" width="257" height="188" fill="none" stroke="#2b2b2b" stroke-width="1"/>
<path d="M409.5,478.5H406M409.5,462.83H407.5M409.5,447.17H406M409.5,431.5H407.5M409.5,415.83H406M409.5,400.17H407.5M409.5,384.5H406M409.5,368.83H407.5M409.5,353.17H406M409.5,337.5H407.5M409.5,321.83H406M409.5,306.17H407.5M409.5,290.5H406M409.5,478.5V482M441.62,478.5V480.5M473.75,478.5V482M505.88,478.5V480.5M538,478.5V482M570.12,478.5V480.5M602.25,478.5V482M634.38,478.5V480.5M666.5,478.5V482" stroke="#2b2b2b" stroke-width="1" fill="none"/>
<text transform="translate(404.3,482.4) scale(1,1.12)" font-size="9.7" text-anchor="end" fill="#000" >0.0</text>
<text transform="translate(404.3,451.07) scale(1,1.12)" font-size="9.7" text-anchor="end" fill="#000" >0.2</text>
<text transform="translate(404.3,419.73) scale(1,1.12)" font-size="9.7" text-anchor="end" fill="#000" >0.4</text>
<text transform="translate(404.3,388.4) scale(1,1.12)" font-size="9.7" text-anchor="end" fill="#000" >0.6</text>
<text transform="translate(404.3,357.07) scale(1,1.12)" font-size="9.7" text-anchor="end" fill="#000" >0.8</text>
<text transform="translate(404.3,325.73) scale(1,1.12)" font-size="9.7" text-anchor="end" fill="#000" >1.0</text>
<text transform="translate(404.3,294.4) scale(1,1.12)" font-size="9.7" text-anchor="end" fill="#000" >1.2</text>
<text transform="translate(409.5,492.9) scale(1,1.12)" font-size="9.7" text-anchor="middle" fill="#000" >400</text>
<text transform="translate(473.75,492.9) scale(1,1.12)" font-size="9.7" text-anchor="middle" fill="#000" >500</text>
<text transform="translate(538,492.9) scale(1,1.12)" font-size="9.7" text-anchor="middle" fill="#000" >600</text>
<text transform="translate(602.25,492.9) scale(1,1.12)" font-size="9.7" text-anchor="middle" fill="#000" >700</text>
<text transform="translate(666.5,492.9) scale(1,1.12)" font-size="9.7" text-anchor="middle" fill="#000" >800</text>
<text x="538.8" y="511.3" font-size="13.6" text-anchor="middle" fill="#000" >Wavelength [nm]</text>
<text transform="translate(378.4,381.5) rotate(-90)" font-size="13.6" text-anchor="middle" fill="#000">norm. Emission</text>
<text x="538.4" y="282.8" font-size="17.0" text-anchor="middle" fill="#000" >d) crosslinked</text>
<path d="M409.7,479C427.58,479 498.72,480.1 517,479C535.28,477.9 518.52,476.83 519.4,472.4C520.28,467.97 521.43,460.82 522.3,452.4C523.17,443.98 523.82,431.67 524.6,421.9C525.38,412.13 526.22,403.17 527,393.8C527.78,384.43 528.53,374.3 529.3,365.7C530.07,357.1 530.82,348.85 531.6,342.2C532.38,335.55 533.22,329.32 534,325.8C534.78,322.28 535.13,321.68 536.3,321.1C537.47,320.52 539.7,321.9 541,322.3C542.3,322.7 542.42,321.75 544.1,323.5C545.78,325.25 548.77,328.12 551.1,332.8C553.43,337.48 555.75,344.57 558.1,351.6C560.45,358.63 562.85,367.18 565.2,375C567.55,382.82 569.87,391.07 572.2,398.5C574.53,405.93 576.85,413.73 579.2,419.6C581.55,425.47 583.55,429.02 586.3,433.7C589.05,438.38 592.58,443.8 595.7,447.7C598.82,451.6 601.48,454.17 605,457.1C608.52,460.03 612.88,463.15 616.8,465.3C620.72,467.45 624.6,468.63 628.5,470C632.4,471.37 636.28,472.6 640.2,473.5C644.12,474.4 647.7,474.92 652,475.4C656.3,475.88 663.67,476.23 666,476.4" fill="none" stroke="#00d400" stroke-width="2.9" stroke-linecap="round" stroke-dasharray="0 5.9"/>
<path d="M409.7,478C427.25,478 495.85,478.5 515,478C534.15,477.5 521.83,477.17 524.6,475C527.37,472.83 529.53,470.5 531.6,465C533.67,459.5 534.92,453.08 537,442C539.08,430.92 541.95,412.4 544.1,398.5C546.25,384.6 548.15,369.15 549.9,358.6C551.65,348.05 553.23,340.87 554.6,335.2C555.97,329.53 556.92,326.75 558.1,324.6C559.28,322.45 560.32,321.9 561.7,322.3C563.08,322.7 564.65,323.68 566.4,327C568.15,330.32 570.07,335.75 572.2,342.2C574.33,348.65 576.85,357.88 579.2,365.7C581.55,373.52 583.95,381.68 586.3,389.1C588.65,396.52 590.57,403.35 593.3,410.2C596.03,417.05 599.57,424.53 602.7,430.2C605.83,435.87 608.58,439.9 612.1,444.2C615.62,448.5 620.28,452.67 623.8,456C627.32,459.33 630.47,462.05 633.2,464.2C635.93,466.35 637.47,467.35 640.2,468.9C642.93,470.45 646.47,472.33 649.6,473.5C652.73,474.67 656.27,475.12 659,475.9C661.73,476.68 664.83,477.82 666,478.2" fill="none" stroke="#000000" stroke-width="3" stroke-linejoin="round" stroke-linecap="round"/>
<path d="M409.7,477.5C416.75,477.5 443.02,478.08 452,477.5C460.98,476.92 459.7,475.13 463.6,474C467.5,472.87 471.48,471.63 475.4,470.7C479.32,469.77 483.2,469.1 487.1,468.4C491,467.7 495.68,467.6 498.8,466.5C501.92,465.4 503.45,464.53 505.8,461.8C508.15,459.07 510.55,455.97 512.9,450.1C515.25,444.23 517.95,434.42 519.9,426.6C521.85,418.78 523.03,411.8 524.6,403.2C526.17,394.6 527.62,384 529.3,375C530.98,366 532.82,356.82 534.7,349.2C536.58,341.58 538.65,333.4 540.6,329.3C542.55,325.2 544.45,324.6 546.4,324.6C548.35,324.6 549.95,325.58 552.3,329.3C554.65,333.02 557.57,340.05 560.5,346.9C563.43,353.75 566.78,362.58 569.9,370.4C573.02,378.22 576.08,386.38 579.2,393.8C582.32,401.22 585.47,408.65 588.6,414.9C591.73,421.15 594.48,426.02 598,431.3C601.52,436.58 605.78,442.3 609.7,446.6C613.62,450.9 617.98,454.17 621.5,457.1C625.02,460.03 627.68,462.05 630.8,464.2C633.92,466.35 637.07,468.52 640.2,470C643.33,471.48 646.87,471.92 649.6,473.1C652.33,474.28 654.87,476.2 656.6,477.1C658.33,478 659.43,478.27 660,478.5" fill="none" stroke="#ff0000" stroke-width="3" stroke-linejoin="round" stroke-linecap="round"/>
<path d="M409.7,477.5C416.73,477.23 442.92,476.63 451.9,475.9C460.88,475.17 459.68,474.2 463.6,473.1C467.52,472 471.48,470.32 475.4,469.3C479.32,468.28 483.2,467.85 487.1,467C491,466.15 495.68,465.45 498.8,464.2C501.92,462.95 503.45,462.63 505.8,459.5C508.15,456.37 510.55,451.65 512.9,445.4C515.25,439.15 517.95,430.6 519.9,422C521.85,413.4 523.03,404.37 524.6,393.8C526.17,383.23 527.73,369.15 529.3,358.6C530.87,348.05 532.43,337.33 534,330.5C535.57,323.67 537.02,320.22 538.7,317.6C540.38,314.98 542.42,314.6 544.1,314.8C545.78,315 546.85,315.8 548.8,318.8C550.75,321.8 553.07,326.55 555.8,332.8C558.53,339.05 562.07,348.48 565.2,356.3C568.33,364.12 571.48,371.88 574.6,379.7C577.72,387.52 580.78,396.15 583.9,403.2C587.02,410.25 590.17,416.53 593.3,422C596.43,427.47 599.18,431.52 602.7,436C606.22,440.48 610.48,444.98 614.4,448.9C618.32,452.82 622.68,457.07 626.2,459.5C629.72,461.93 633.55,462.92 635.5,463.5C637.45,464.08 635.93,462.3 637.9,463C639.87,463.7 644.18,466.92 647.3,467.7C650.42,468.48 653.48,467.32 656.6,467.7C659.72,468.08 664.43,469.62 666,470" fill="none" stroke="#0066c0" stroke-width="3" stroke-linejoin="round" stroke-linecap="round"/>
<rect x="4" y="537.6" width="313" height="249.4" fill="url(#semL)"/>
<clipPath id="cL"><rect x="4" y="537.6" width="313" height="249.4"/></clipPath><g clip-path="url(#cL)">
<ellipse cx="225" cy="554" rx="3.6" ry="15" transform="rotate(23 225 554)" fill="url(#blob)" opacity="1.0"/>
<ellipse cx="268" cy="555" rx="2.8" ry="11" transform="rotate(27 268 555)" fill="url(#blob)" opacity="0.9"/>
<ellipse cx="240.8" cy="592.6" rx="5.5" ry="3.2" transform="rotate(-10 240.8 592.6)" fill="url(#blob)" opacity="0.8"/>
<ellipse cx="238.3" cy="606" rx="3.2" ry="5.5" transform="rotate(15 238.3 606)" fill="url(#blob)" opacity="0.85"/>
<ellipse cx="190" cy="612" rx="3" ry="3" transform="rotate(0 190 612)" fill="url(#blob)" opacity="0.45"/>
<ellipse cx="308" cy="693.8" rx="3" ry="4" transform="rotate(30 308 693.8)" fill="url(#blob)" opacity="0.7"/>
<ellipse cx="183" cy="693.8" rx="4.5" ry="2.5" transform="rotate(-15 183 693.8)" fill="url(#blob)" opacity="0.65"/>
<ellipse cx="85.2" cy="717.8" rx="8" ry="7.6" transform="rotate(0 85.2 717.8)" fill="url(#blob)" opacity="1.0"/>
<ellipse cx="12.3" cy="732.2" rx="6.2" ry="7.6" transform="rotate(0 12.3 732.2)" fill="url(#blob)" opacity="1.0"/>
<ellipse cx="43.4" cy="685.5" rx="3.5" ry="3.8" transform="rotate(0 43.4 685.5)" fill="url(#blob)" opacity="0.8"/>
<ellipse cx="77.5" cy="674.8" rx="3" ry="2.2" transform="rotate(0 77.5 674.8)" fill="url(#blob)" opacity="0.7"/>
<ellipse cx="118" cy="691" rx="2.6" ry="3.4" transform="rotate(0 118 691)" fill="url(#blob)" opacity="0.65"/>
<ellipse cx="73" cy="701.8" rx="2" ry="2" transform="rotate(0 73 701.8)" fill="url(#blob)" opacity="0.6"/>
<ellipse cx="9" cy="578" rx="3.5" ry="6.5" transform="rotate(0 9 578)" fill="url(#blob)" opacity="0.75"/>
<ellipse cx="8" cy="590" rx="2.5" ry="3.5" transform="rotate(0 8 590)" fill="url(#blob)" opacity="0.5"/>
</g>
<rect x="15.7" y="550.5" width="145.8" height="119.4" fill="#fff" stroke="#0a63bd" stroke-width="5"/>
<rect x="47.5" y="561.1" width="95.8" height="77.1" fill="none" stroke="#a8a8a8" stroke-width="1.1"/>
<rect x="76.6" y="628.95" width="2.27" height="9.25" fill="#1463b5" stroke="#0b2a55" stroke-width="0.45"/>
<rect x="78.86" y="628.95" width="2.27" height="9.25" fill="#1463b5" stroke="#0b2a55" stroke-width="0.45"/>
<rect x="81.13" y="616.61" width="2.27" height="21.59" fill="#1463b5" stroke="#0b2a55" stroke-width="0.45"/>
<rect x="83.39" y="601.19" width="2.27" height="37.01" fill="#1463b5" stroke="#0b2a55" stroke-width="0.45"/>
<rect x="85.66" y="604.28" width="2.27" height="33.92" fill="#1463b5" stroke="#0b2a55" stroke-width="0.45"/>
<rect x="87.92" y="601.19" width="2.27" height="37.01" fill="#1463b5" stroke="#0b2a55" stroke-width="0.45"/>
<rect x="90.19" y="585.77" width="2.27" height="52.43" fill="#1463b5" stroke="#0b2a55" stroke-width="0.45"/>
<rect x="92.45" y="619.7" width="2.27" height="18.5" fill="#1463b5" stroke="#0b2a55" stroke-width="0.45"/>
<rect x="94.72" y="610.44" width="2.27" height="27.76" fill="#1463b5" stroke="#0b2a55" stroke-width="0.45"/>
<rect x="96.98" y="616.61" width="2.27" height="21.59" fill="#1463b5" stroke="#0b2a55" stroke-width="0.45"/>
<rect x="99.25" y="610.44" width="2.27" height="27.76" fill="#1463b5" stroke="#0b2a55" stroke-width="0.45"/>
<rect x="101.52" y="632.03" width="2.27" height="6.17" fill="#1463b5" stroke="#0b2a55" stroke-width="0.45"/>
<rect x="103.78" y="622.78" width="2.27" height="15.42" fill="#1463b5" stroke="#0b2a55" stroke-width="0.45"/>
<rect x="106.05" y="625.86" width="2.27" height="12.34" fill="#1463b5" stroke="#0b2a55" stroke-width="0.45"/>
<rect x="108.31" y="610.44" width="2.27" height="27.76" fill="#1463b5" stroke="#0b2a55" stroke-width="0.45"/>
<rect x="110.58" y="573.44" width="2.27" height="64.76" fill="#1463b5" stroke="#0b2a55" stroke-width="0.45"/>
<rect x="112.84" y="610.44" width="2.27" height="27.76" fill="#1463b5" stroke="#0b2a55" stroke-width="0.45"/>
<rect x="115.11" y="632.03" width="2.27" height="6.17" fill="#1463b5" stroke="#0b2a55" stroke-width="0.45"/>
<rect x="117.37" y="635.12" width="2.27" height="3.08" fill="#1463b5" stroke="#0b2a55" stroke-width="0.45"/>
<rect x="119.64" y="635.12" width="2.27" height="3.08" fill="#1463b5" stroke="#0b2a55" stroke-width="0.45"/>
<text transform="translate(45.1,641.1) scale(1,1.2)" font-size="7.8" text-anchor="end" fill="#000" >0</text>
<text transform="translate(45.1,625.68) scale(1,1.2)" font-size="7.8" text-anchor="end" fill="#000" >5</text>
<text transform="translate(45.1,610.26) scale(1,1.2)" font-size="7.8" text-anchor="end" fill="#000" >10</text>
<text transform="translate(45.1,594.84) scale(1,1.2)" font-size="7.8" text-anchor="end" fill="#000" >15</text>
<text transform="translate(45.1,579.42) scale(1,1.2)" font-size="7.8" text-anchor="end" fill="#000" >20</text>
<text transform="translate(45.1,564) scale(1,1.2)" font-size="7.8" text-anchor="end" fill="#000" >25</text>
<text transform="translate(61.19,646.3) scale(1,1.2)" font-size="7.8" text-anchor="middle" fill="#000" >400</text>
<text transform="translate(88.56,646.3) scale(1,1.2)" font-size="7.8" text-anchor="middle" fill="#000" >800</text>
<text transform="translate(115.93,646.3) scale(1,1.2)" font-size="7.8" text-anchor="middle" fill="#000" >1200</text>
<text transform="translate(143.3,646.3) scale(1,1.2)" font-size="7.8" text-anchor="middle" fill="#000" >1600</text>
<path d="M47.5,638.2H45.5M47.5,622.78H45.5M47.5,607.36H45.5M47.5,591.94H45.5M47.5,576.52H45.5M47.5,561.1H45.5M61.19,638.2V640.2M88.56,638.2V640.2M115.93,638.2V640.2M143.3,638.2V640.2" stroke="#555" stroke-width="0.8" fill="none"/>
<text transform="translate(33.8,599) rotate(-90)" font-size="11.4" text-anchor="middle" fill="#000">Counts</text>
<text x="95.3" y="661.4" font-size="11.4" text-anchor="middle" fill="#000" >Particle Size [nm]</text>
<rect x="246.6" y="755.9" width="57.1" height="24.5" fill="#000"/>
<rect x="248.9" y="757.7" width="52.2" height="5.2" fill="#fff"/>
<text x="275.2" y="774.9" font-size="12.0" text-anchor="middle" fill="#fff" font-weight="bold" >20 µm</text>
<rect x="371" y="537.6" width="313.5" height="249.4" fill="url(#semR)"/>
<ellipse cx="423.7" cy="661" rx="9" ry="18" transform="rotate(15 423.7 661)" fill="url(#smudge)"/>
<ellipse cx="444.8" cy="572" rx="12" ry="5" transform="rotate(20 444.8 572)" fill="url(#smudge)"/>
<ellipse cx="418" cy="547" rx="7" ry="4" transform="rotate(0 418 547)" fill="url(#smudge)"/>
<ellipse cx="382" cy="675" rx="6" ry="10" transform="rotate(-30 382 675)" fill="url(#smudge)"/>
<ellipse cx="398" cy="590" rx="6" ry="3" transform="rotate(0 398 590)" fill="url(#smudge)"/>
<rect x="527.8" y="550.5" width="145.1" height="120" fill="#fff" stroke="#0a63bd" stroke-width="5"/>
<rect x="562.1" y="560.5" width="94.5" height="75" fill="none" stroke="#a8a8a8" stroke-width="1.1"/>
<rect x="593.2" y="613" width="1.77" height="22.5" fill="#1463b5" stroke="#0b2a55" stroke-width="0.4"/>
<rect x="594.98" y="628" width="1.77" height="7.5" fill="#1463b5" stroke="#0b2a55" stroke-width="0.4"/>
<rect x="596.75" y="613" width="1.77" height="22.5" fill="#1463b5" stroke="#0b2a55" stroke-width="0.4"/>
<rect x="598.53" y="620.5" width="1.77" height="15" fill="#1463b5" stroke="#0b2a55" stroke-width="0.4"/>
<rect x="600.3" y="609.25" width="1.77" height="26.25" fill="#1463b5" stroke="#0b2a55" stroke-width="0.4"/>
<rect x="602.08" y="601.75" width="1.77" height="33.75" fill="#1463b5" stroke="#0b2a55" stroke-width="0.4"/>
<rect x="603.85" y="586.75" width="1.77" height="48.75" fill="#1463b5" stroke="#0b2a55" stroke-width="0.4"/>
<rect x="605.62" y="579.25" width="1.77" height="56.25" fill="#1463b5" stroke="#0b2a55" stroke-width="0.4"/>
<rect x="607.4" y="594.25" width="1.77" height="41.25" fill="#1463b5" stroke="#0b2a55" stroke-width="0.4"/>
<rect x="609.18" y="583" width="1.77" height="52.5" fill="#1463b5" stroke="#0b2a55" stroke-width="0.4"/>
<rect x="610.95" y="586.75" width="1.77" height="48.75" fill="#1463b5" stroke="#0b2a55" stroke-width="0.4"/>
<rect x="612.73" y="586.75" width="1.77" height="48.75" fill="#1463b5" stroke="#0b2a55" stroke-width="0.4"/>
<rect x="614.5" y="601.75" width="1.77" height="33.75" fill="#1463b5" stroke="#0b2a55" stroke-width="0.4"/>
<rect x="616.28" y="609.25" width="1.77" height="26.25" fill="#1463b5" stroke="#0b2a55" stroke-width="0.4"/>
<rect x="618.05" y="594.25" width="1.77" height="41.25" fill="#1463b5" stroke="#0b2a55" stroke-width="0.4"/>
<rect x="619.83" y="628" width="1.77" height="7.5" fill="#1463b5" stroke="#0b2a55" stroke-width="0.4"/>
<rect x="621.6" y="616.75" width="1.77" height="18.75" fill="#1463b5" stroke="#0b2a55" stroke-width="0.4"/>
<rect x="623.38" y="631.75" width="1.77" height="3.75" fill="#1463b5" stroke="#0b2a55" stroke-width="0.4"/>
<rect x="625.15" y="631.75" width="1.77" height="3.75" fill="#1463b5" stroke="#0b2a55" stroke-width="0.4"/>
<rect x="626.93" y="631.75" width="1.77" height="3.75" fill="#1463b5" stroke="#0b2a55" stroke-width="0.4"/>
<text transform="translate(559.7,638.5) scale(1,1.2)" font-size="8.0" text-anchor="end" fill="#000" >0</text>
<text transform="translate(559.7,619.75) scale(1,1.2)" font-size="8.0" text-anchor="end" fill="#000" >5</text>
<text transform="translate(559.7,601) scale(1,1.2)" font-size="8.0" text-anchor="end" fill="#000" >10</text>
<text transform="translate(559.7,582.25) scale(1,1.2)" font-size="8.0" text-anchor="end" fill="#000" >15</text>
<text transform="translate(559.7,563.5) scale(1,1.2)" font-size="8.0" text-anchor="end" fill="#000" >20</text>
<text transform="translate(562.1,644.7) scale(1,1.2)" font-size="8.0" text-anchor="middle" fill="#000" >500</text>
<text transform="translate(593.6,644.7) scale(1,1.2)" font-size="8.0" text-anchor="middle" fill="#000" >1000</text>
<text transform="translate(625.1,644.7) scale(1,1.2)" font-size="8.0" text-anchor="middle" fill="#000" >1500</text>
<text transform="translate(656.6,644.7) scale(1,1.2)" font-size="8.0" text-anchor="middle" fill="#000" >2000</text>
<path d="M562.1,635.5H560.1M562.1,616.75H560.1M562.1,598H560.1M562.1,579.25H560.1M562.1,560.5H560.1M562.1,635.5V637.5M593.6,635.5V637.5M625.1,635.5V637.5M656.6,635.5V637.5" stroke="#555" stroke-width="0.8" fill="none"/>
<text transform="translate(546.8,599) rotate(-90)" font-size="12.2" text-anchor="middle" fill="#000">Counts</text>
<text x="609.5" y="661.6" font-size="12.6" text-anchor="middle" fill="#000" >Particle Size [nm]</text>
<rect x="384.5" y="755.9" width="56.6" height="23.7" fill="#000"/>
<rect x="386.8" y="757.7" width="52" height="5.2" fill="#fff"/>
<text x="413" y="774.6" font-size="12.0" text-anchor="middle" fill="#fff" font-weight="bold" >20 µm</text>
</svg>
</body></html>
